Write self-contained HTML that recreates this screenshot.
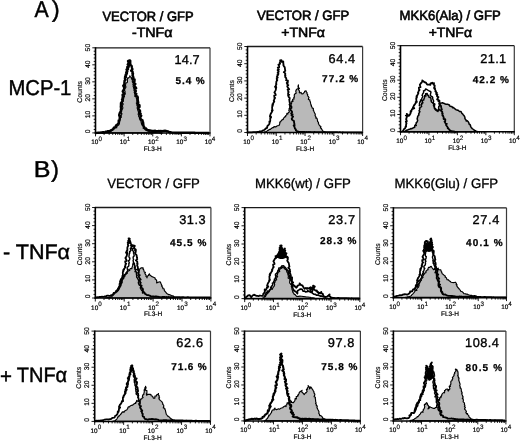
<!DOCTYPE html>
<html><head><meta charset="utf-8"><style>
html,body{margin:0;padding:0;background:#fff;}
svg{display:block;will-change:transform;}
text{font-family:"Liberation Sans", sans-serif;text-rendering:geometricPrecision;}
</style></head><body>
<svg width="520" height="441" viewBox="0 0 520 441" font-family='"Liberation Sans", sans-serif'>
<rect width="520" height="441" fill="#fff"/>
<polygon points="102.0,132.9 102.0,133.4 103.0,133.2 104.0,133.1 105.0,132.9 106.0,132.7 107.0,132.5 108.0,132.4 109.0,132.0 109.8,131.4 110.9,131.2 112.1,130.4 113.1,129.7 113.8,129.0 114.1,129.0 115.2,127.7 116.8,127.7 116.5,127.0 117.5,125.8 117.6,125.4 119.0,124.7 119.6,122.8 119.2,121.6 119.2,120.5 119.8,120.3 119.7,119.4 120.5,117.9 121.3,117.2 120.8,116.2 121.5,114.7 122.0,113.7 121.8,113.8 121.0,112.8 121.6,111.5 121.3,109.8 121.7,110.1 121.9,108.9 123.0,108.1 122.3,106.3 122.7,105.9 122.3,104.9 123.4,104.1 122.4,103.2 122.6,101.4 123.5,101.2 123.2,100.3 123.7,98.4 123.6,97.3 123.4,96.3 124.5,96.6 124.0,94.3 125.4,94.0 124.7,92.6 125.1,92.5 125.0,90.9 124.5,90.6 124.6,89.0 125.8,87.5 125.8,87.6 125.8,86.4 125.3,84.9 125.6,84.5 126.0,82.9 127.3,82.5 127.5,80.9 127.2,80.4 127.5,79.0 127.8,77.9 128.1,78.2 129.7,76.9 129.8,75.8 130.0,76.4 131.7,78.0 131.4,78.8 132.3,79.5 132.4,80.5 132.3,81.3 132.4,82.0 133.4,83.3 132.9,84.6 133.7,85.1 133.0,86.1 133.5,87.2 133.9,88.4 134.2,89.4 133.9,90.2 134.6,91.5 134.2,92.5 135.0,93.3 135.3,94.6 135.0,95.0 134.8,96.4 136.2,96.8 136.2,98.1 136.6,98.2 136.8,99.8 136.8,100.5 136.9,102.0 137.1,102.9 136.3,103.1 137.1,104.8 136.9,105.8 137.6,105.9 137.5,107.1 137.1,108.0 137.6,109.0 137.7,109.8 138.2,111.2 138.6,112.5 138.3,113.9 138.1,114.2 138.7,115.2 138.7,116.7 139.2,116.6 139.8,117.6 140.0,118.9 140.4,120.8 141.0,121.0 141.4,122.3 141.1,122.5 141.7,124.1 142.7,125.7 142.7,125.8 143.6,126.3 143.1,128.1 144.4,128.4 145.3,129.8 145.9,130.3 146.9,130.6 148.2,131.0 149.2,131.6 150.0,131.7 151.1,131.9 152.0,132.0 153.1,132.2 154.0,132.3 155.0,132.5 156.0,132.6 157.0,132.7 158.0,132.9 159.0,133.0 160.0,133.1 161.0,133.3 162.0,133.4 162.0,132.9" fill="#b9b9b9" stroke="#000" stroke-width="1.15" stroke-linejoin="round"/>
<polyline points="96.0,133.0 97.0,132.9 98.0,132.8 99.0,132.7 100.0,132.6 101.1,132.5 102.1,132.4 103.0,132.2 104.0,132.3 104.9,132.1 105.9,131.7 106.8,131.7 107.5,131.3 108.7,131.3 109.6,131.0 110.7,130.6 111.4,130.1 112.4,129.7 113.9,128.1 113.8,127.6 115.7,127.1 115.8,126.0 116.2,125.4 116.5,125.0 117.6,124.7 118.0,123.8 118.7,123.0 118.7,120.5 119.3,121.0 119.7,119.3 119.7,117.7 120.1,117.4 119.2,115.5 120.4,116.2 119.2,114.9 119.9,112.7 119.9,112.9 121.1,110.6 120.8,109.6 121.1,109.2 121.6,109.4 121.0,108.4 120.8,105.8 121.5,104.7 120.9,104.4 121.7,103.0 120.9,103.3 121.5,102.5 122.7,100.4 122.0,99.7 122.5,98.9 122.5,98.0 123.4,96.8 122.7,96.3 122.6,94.6 124.2,94.0 123.5,92.2 123.3,92.3 122.7,91.4 123.9,89.5 124.0,89.3 124.2,88.2 124.4,88.0 123.2,85.8 124.5,86.5 123.9,84.7 124.6,83.6 124.3,82.7 124.5,82.3 124.5,81.0 125.5,79.4 125.2,79.8 124.9,78.0 126.0,77.1 125.1,76.5 126.2,75.0 125.7,74.5 126.8,73.8 127.0,72.4 126.2,72.4 127.4,71.1 126.5,69.6 127.3,68.8 128.1,69.1 127.2,67.2 128.6,67.0 128.9,65.5 127.7,64.5 129.0,63.6 128.3,63.0 128.6,62.0 129.6,60.7 128.0,61.2 129.7,60.4 129.1,61.2 130.3,60.8 130.2,62.8 130.4,63.1 130.0,63.7 130.1,64.1 131.0,65.4 131.6,65.9 132.0,67.9 132.3,69.2 132.4,69.5 131.1,70.7 131.6,70.8 132.7,72.1 132.4,73.8 133.0,73.6 132.5,75.5 133.1,76.3 133.0,76.1 133.5,78.1 133.0,79.0 134.6,80.0 134.6,79.4 134.4,81.9 133.5,81.7 134.1,83.0 134.6,83.9 135.4,83.9 134.3,85.0 134.5,85.8 136.2,88.2 134.7,88.5 135.2,89.1 135.3,90.6 135.9,91.0 135.2,91.8 135.2,93.2 136.4,93.8 135.6,94.4 136.5,96.1 137.5,96.6 137.9,98.0 137.6,98.5 137.8,100.0 137.8,101.0 138.0,101.2 138.3,103.0 137.6,103.5 138.4,105.3 139.5,105.3 139.5,107.1 138.5,107.5 138.4,109.1 139.6,110.2 140.0,110.7 140.1,111.5 139.1,112.5 139.2,112.7 140.7,113.5 139.7,114.6 141.3,115.7 140.0,117.8 140.3,118.8 141.6,119.8 142.5,120.3 142.5,120.3 142.8,122.1 143.1,122.3 143.4,124.8 142.7,124.7 144.1,126.6 144.0,126.4 144.5,128.2 146.1,128.5 146.5,129.2 147.4,129.9 148.3,130.3 150.0,130.5 151.0,130.6 152.0,131.0 153.0,130.9 153.9,131.0 155.2,130.8 155.8,131.2 157.2,131.1 158.0,131.2 158.8,131.0 159.8,131.2 160.9,131.0 162.1,131.3 162.9,131.0 163.9,131.0 165.0,130.8 165.9,130.9 167.0,131.3 167.9,131.4 168.9,131.9 169.9,132.2 171.0,132.3 172.0,132.6 172.9,132.6 173.8,132.6 174.7,132.6 175.6,132.7 176.5,132.6 177.4,132.7 178.3,132.7 179.2,132.7 180.1,132.7 181.0,132.7 181.9,132.7 182.8,132.7 183.7,132.7 184.6,132.7 185.5,132.8 186.4,132.7 187.3,132.8 188.2,132.8 189.1,132.8 190.0,132.8 191.0,132.8 191.9,132.8 192.8,132.8 193.7,132.8 194.6,132.8 195.5,132.9 196.4,132.9 197.3,132.9 198.2,132.9 199.1,132.9 200.0,132.9 200.9,132.9 201.8,132.9 202.7,132.9 203.6,132.9 204.5,133.0 205.4,133.0 206.3,133.0 207.2,133.0 208.1,133.0 209.0,133.0" fill="none" stroke="#000" stroke-width="2.4" stroke-linejoin="round"/>
<line x1="95.5" y1="47.8" x2="210.0" y2="47.8" stroke="#1a1a1a" stroke-width="1.3"/>
<line x1="210.0" y1="47.8" x2="210.0" y2="132.9" stroke="#3a3a3a" stroke-width="1.2"/>
<line x1="95.5" y1="47.199999999999996" x2="95.5" y2="133.8" stroke="#000" stroke-width="1.6"/>
<line x1="94.7" y1="132.9" x2="210.5" y2="132.9" stroke="#000" stroke-width="1.55"/>
<path d="M92.30,132.90H95.5M93.70,129.50H95.5M93.70,126.09H95.5M93.70,122.69H95.5M93.70,119.28H95.5M92.30,115.88H95.5M93.70,112.48H95.5M93.70,109.07H95.5M93.70,105.67H95.5M93.70,102.26H95.5M92.30,98.86H95.5M93.70,95.46H95.5M93.70,92.05H95.5M93.70,88.65H95.5M93.70,85.24H95.5M92.30,81.84H95.5M93.70,78.44H95.5M93.70,75.03H95.5M93.70,71.63H95.5M93.70,68.22H95.5M92.30,64.82H95.5M93.70,61.42H95.5M93.70,58.01H95.5M93.70,54.61H95.5M93.70,51.20H95.5M92.30,47.80H95.5M95.50,132.9V136.40M104.12,132.9V134.90M109.16,132.9V134.90M112.73,132.9V134.90M115.51,132.9V134.90M117.77,132.9V134.90M119.69,132.9V134.90M121.35,132.9V134.90M122.82,132.9V134.90M124.12,132.9V136.40M132.74,132.9V134.90M137.78,132.9V134.90M141.36,132.9V134.90M144.13,132.9V134.90M146.40,132.9V134.90M148.32,132.9V134.90M149.98,132.9V134.90M151.44,132.9V134.90M152.75,132.9V136.40M161.37,132.9V134.90M166.41,132.9V134.90M169.98,132.9V134.90M172.76,132.9V134.90M175.02,132.9V134.90M176.94,132.9V134.90M178.60,132.9V134.90M180.07,132.9V134.90M181.38,132.9V136.40M189.99,132.9V134.90M195.03,132.9V134.90M198.61,132.9V134.90M201.38,132.9V134.90M203.65,132.9V134.90M205.57,132.9V134.90M207.23,132.9V134.90M208.69,132.9V134.90M210.00,132.9V136.40" stroke="#000" stroke-width="0.9" fill="none"/>
<text transform="translate(89.90,131.30) rotate(-90)" text-anchor="middle" font-size="6.8" fill="#000" stroke="#000" stroke-width="0.2">0</text>
<text transform="translate(89.90,114.56) rotate(-90)" text-anchor="middle" font-size="6.8" fill="#000" stroke="#000" stroke-width="0.2">10</text>
<text transform="translate(89.90,97.82) rotate(-90)" text-anchor="middle" font-size="6.8" fill="#000" stroke="#000" stroke-width="0.2">20</text>
<text transform="translate(89.90,81.08) rotate(-90)" text-anchor="middle" font-size="6.8" fill="#000" stroke="#000" stroke-width="0.2">30</text>
<text transform="translate(89.90,64.34) rotate(-90)" text-anchor="middle" font-size="6.8" fill="#000" stroke="#000" stroke-width="0.2">40</text>
<text transform="translate(89.90,47.60) rotate(-90)" text-anchor="middle" font-size="6.8" fill="#000" stroke="#000" stroke-width="0.2">50</text>
<text transform="translate(81.90,91.85) rotate(-90)" text-anchor="middle" font-size="6.9" fill="#000" stroke="#000" stroke-width="0.15">Counts</text>
<text x="91.30" y="144.40" font-size="6.4" fill="#000" stroke="#000" stroke-width="0.2">10</text>
<text x="98.50" y="140.80" font-size="6.3" fill="#000" stroke="#000" stroke-width="0.15">0</text>
<text x="119.64" y="144.40" font-size="6.4" fill="#000" stroke="#000" stroke-width="0.2">10</text>
<text x="126.84" y="140.80" font-size="6.3" fill="#000" stroke="#000" stroke-width="0.15">1</text>
<text x="147.98" y="144.40" font-size="6.4" fill="#000" stroke="#000" stroke-width="0.2">10</text>
<text x="155.18" y="140.80" font-size="6.3" fill="#000" stroke="#000" stroke-width="0.15">2</text>
<text x="176.32" y="144.40" font-size="6.4" fill="#000" stroke="#000" stroke-width="0.2">10</text>
<text x="183.52" y="140.80" font-size="6.3" fill="#000" stroke="#000" stroke-width="0.15">3</text>
<text x="204.66" y="144.40" font-size="6.4" fill="#000" stroke="#000" stroke-width="0.2">10</text>
<text x="211.86" y="140.80" font-size="6.3" fill="#000" stroke="#000" stroke-width="0.15">4</text>
<text x="152.75" y="151.10" text-anchor="middle" font-size="6.5" fill="#000" stroke="#000" stroke-width="0.2">FL3-H</text>
<polygon points="262.0,132.5 262.0,132.4 263.1,132.2 264.1,132.0 265.1,131.7 266.3,131.5 267.2,130.9 267.8,130.4 268.7,130.1 269.2,129.4 270.2,129.5 271.4,128.4 272.3,127.8 273.0,127.4 273.1,127.8 274.1,126.6 276.0,127.0 275.9,126.7 277.1,125.9 277.4,125.8 279.0,125.5 279.8,123.8 279.7,122.8 279.9,121.9 280.7,121.9 280.9,121.2 282.0,119.9 283.3,119.4 283.3,118.6 284.5,117.2 285.5,116.3 285.8,116.7 285.5,115.9 286.7,114.9 286.9,113.4 287.9,113.9 288.1,112.7 289.4,112.0 288.8,110.2 289.3,109.8 289.0,108.8 290.2,108.0 289.5,107.3 290.0,105.6 291.1,105.6 291.0,104.8 291.7,103.1 291.7,102.0 291.8,101.1 293.0,101.4 292.6,99.2 294.1,99.0 293.6,97.7 294.2,97.6 294.4,96.2 294.2,96.0 294.4,94.5 295.8,93.1 296.0,93.4 296.1,92.3 295.7,91.0 296.0,90.7 296.5,89.2 297.9,88.8 298.3,87.2 298.0,86.5 298.4,84.9 298.4,85.6 298.5,87.8 299.5,88.2 298.9,88.7 298.5,89.6 299.6,91.3 299.2,92.2 299.9,93.0 301.1,92.4 301.4,93.3 301.9,94.0 303.3,93.6 303.3,93.3 304.5,92.1 304.6,91.4 306.0,90.8 306.5,92.0 307.1,92.9 306.9,93.7 307.8,94.9 307.5,95.9 308.5,96.6 309.0,97.8 308.6,98.1 308.4,99.5 309.8,99.9 309.8,101.1 310.1,101.2 310.5,102.7 310.6,103.4 311.0,104.8 311.5,105.6 311.1,105.8 312.1,107.4 312.3,108.3 313.3,108.4 313.4,109.5 313.2,110.2 313.9,111.1 314.0,111.7 314.7,113.1 315.3,114.2 315.1,115.5 315.1,115.7 315.8,116.6 315.9,118.1 316.5,117.9 317.2,118.8 317.4,120.1 317.7,121.8 318.3,122.0 318.6,123.2 318.3,123.4 319.1,124.8 320.1,126.2 320.1,126.1 320.9,126.5 320.4,128.0 321.4,128.4 322.1,129.9 322.6,130.5 323.2,131.3 324.3,131.7 325.1,132.1 326.0,132.4 326.0,132.5" fill="#b9b9b9" stroke="#000" stroke-width="1.15" stroke-linejoin="round"/>
<polyline points="247.0,132.4 248.0,132.4 249.0,132.3 250.0,132.3 251.0,132.3 252.0,132.3 253.0,132.2 254.0,132.2 255.0,132.2 256.2,132.2 257.4,132.0 258.5,132.0 259.4,131.5 260.6,131.3 261.5,131.2 262.5,130.8 263.2,130.3 264.2,130.0 265.6,128.8 265.8,128.4 267.2,127.8 267.2,126.7 267.4,126.0 267.5,125.6 268.4,125.3 268.9,124.6 269.5,123.7 269.4,121.3 270.0,121.8 270.3,120.1 270.2,118.5 270.6,118.2 269.9,116.3 271.2,117.0 270.0,115.7 270.8,113.6 270.8,113.7 272.1,111.5 271.8,110.5 272.2,110.1 272.7,110.3 272.2,109.3 272.1,106.7 272.8,105.7 272.3,105.4 273.2,104.0 272.4,104.3 273.0,103.5 274.3,101.5 273.7,100.8 274.2,100.0 274.2,99.1 275.1,97.9 274.4,97.3 274.2,95.6 275.8,95.0 275.1,93.2 275.0,93.3 274.4,92.4 275.6,90.4 275.7,90.2 275.9,89.1 276.1,88.8 275.0,86.7 276.3,87.4 275.7,85.5 276.4,84.3 276.1,83.4 276.3,83.0 276.3,81.7 277.3,80.1 277.0,80.5 276.7,78.6 277.7,77.7 276.8,77.1 277.8,75.6 277.3,75.1 278.3,74.4 278.4,73.0 277.6,72.9 278.7,71.6 277.6,70.1 278.3,69.3 278.9,69.6 277.8,67.6 279.1,67.4 279.2,65.9 278.4,64.8 280.1,63.7 279.7,62.9 280.2,61.7 281.4,60.1 280.1,60.4 282.2,61.3 281.9,62.0 283.3,61.5 283.3,63.7 283.6,64.2 283.3,64.9 283.4,65.3 284.2,66.7 284.7,67.2 285.0,69.3 285.2,70.6 285.3,70.9 283.8,72.1 284.3,72.3 285.3,73.6 285.0,75.3 285.5,75.1 285.1,76.9 285.8,77.7 285.9,77.5 286.5,79.5 286.1,80.3 287.8,81.2 287.9,80.6 287.7,83.1 286.7,82.9 287.3,84.2 287.7,85.1 288.4,85.1 287.2,86.2 287.5,87.0 289.2,89.3 287.6,89.6 288.1,90.2 288.2,91.7 288.7,92.0 288.1,92.9 288.1,94.2 289.2,94.8 288.1,95.4 288.8,97.1 289.6,97.7 289.7,99.1 289.2,99.6 289.5,101.1 289.5,102.1 289.8,102.2 290.1,104.0 289.5,104.5 290.3,106.2 291.4,106.3 291.5,108.0 290.6,108.4 290.5,110.0 291.6,111.1 292.0,111.6 292.1,112.4 291.1,113.4 291.1,113.6 292.6,114.3 291.5,115.4 293.1,116.5 291.7,118.7 292.0,119.6 293.2,120.6 294.0,121.1 294.0,121.1 294.1,122.9 294.3,123.1 294.6,125.6 293.6,125.4 294.7,127.3 294.6,127.2 295.0,128.7 295.9,129.5 295.9,130.4 297.5,131.4 298.6,131.7 300.1,132.0 300.9,132.0 301.9,132.0 302.8,132.0 303.6,132.0 304.6,132.0 305.4,132.1 306.4,132.0 307.3,132.1 308.2,132.0 309.1,132.1 310.0,132.0 311.0,132.1 311.8,132.1 312.8,132.1 313.7,132.1 314.6,132.0 315.5,132.1 316.4,132.1 317.3,132.1 318.2,132.2 319.1,132.1 320.1,132.2 321.0,132.1 321.9,132.2 322.8,132.1 323.7,132.2 324.6,132.1 325.5,132.2 326.5,132.2 327.4,132.2 328.2,132.2 329.1,132.2 330.1,132.2 331.0,132.2 331.9,132.2 332.8,132.2 333.7,132.2 334.6,132.2 335.6,132.2 336.4,132.2 337.4,132.2 338.3,132.3 339.2,132.2 340.1,132.2 341.0,132.3 341.9,132.3 342.9,132.2 343.8,132.3 344.7,132.3 345.6,132.3 346.5,132.3 347.4,132.3 348.3,132.3 349.2,132.3 350.1,132.3 351.1,132.3 352.0,132.3 352.9,132.3 353.8,132.4 354.7,132.3 355.6,132.3 356.5,132.4 357.4,132.4 358.4,132.4 359.3,132.4 360.2,132.4 361.1,132.4 362.0,132.4" fill="none" stroke="#000" stroke-width="1.8" stroke-linejoin="round"/>
<line x1="247.5" y1="46.5" x2="362.6" y2="46.5" stroke="#1a1a1a" stroke-width="1.3"/>
<line x1="362.6" y1="46.5" x2="362.6" y2="132.5" stroke="#3a3a3a" stroke-width="1.2"/>
<line x1="247.5" y1="45.9" x2="247.5" y2="133.4" stroke="#000" stroke-width="1.6"/>
<line x1="246.7" y1="132.5" x2="363.1" y2="132.5" stroke="#000" stroke-width="1.55"/>
<path d="M244.30,132.50H247.5M245.70,129.06H247.5M245.70,125.62H247.5M245.70,122.18H247.5M245.70,118.74H247.5M244.30,115.30H247.5M245.70,111.86H247.5M245.70,108.42H247.5M245.70,104.98H247.5M245.70,101.54H247.5M244.30,98.10H247.5M245.70,94.66H247.5M245.70,91.22H247.5M245.70,87.78H247.5M245.70,84.34H247.5M244.30,80.90H247.5M245.70,77.46H247.5M245.70,74.02H247.5M245.70,70.58H247.5M245.70,67.14H247.5M244.30,63.70H247.5M245.70,60.26H247.5M245.70,56.82H247.5M245.70,53.38H247.5M245.70,49.94H247.5M244.30,46.50H247.5M247.50,132.5V136.00M256.16,132.5V134.50M261.23,132.5V134.50M264.82,132.5V134.50M267.61,132.5V134.50M269.89,132.5V134.50M271.82,132.5V134.50M273.49,132.5V134.50M274.96,132.5V134.50M276.27,132.5V136.00M284.94,132.5V134.50M290.00,132.5V134.50M293.60,132.5V134.50M296.39,132.5V134.50M298.67,132.5V134.50M300.59,132.5V134.50M302.26,132.5V134.50M303.73,132.5V134.50M305.05,132.5V136.00M313.71,132.5V134.50M318.78,132.5V134.50M322.37,132.5V134.50M325.16,132.5V134.50M327.44,132.5V134.50M329.37,132.5V134.50M331.04,132.5V134.50M332.51,132.5V134.50M333.83,132.5V136.00M342.49,132.5V134.50M347.55,132.5V134.50M351.15,132.5V134.50M353.94,132.5V134.50M356.22,132.5V134.50M358.14,132.5V134.50M359.81,132.5V134.50M361.28,132.5V134.50M362.60,132.5V136.00" stroke="#000" stroke-width="0.9" fill="none"/>
<text transform="translate(241.90,130.90) rotate(-90)" text-anchor="middle" font-size="6.8" fill="#000" stroke="#000" stroke-width="0.2">0</text>
<text transform="translate(241.90,113.98) rotate(-90)" text-anchor="middle" font-size="6.8" fill="#000" stroke="#000" stroke-width="0.2">10</text>
<text transform="translate(241.90,97.06) rotate(-90)" text-anchor="middle" font-size="6.8" fill="#000" stroke="#000" stroke-width="0.2">20</text>
<text transform="translate(241.90,80.14) rotate(-90)" text-anchor="middle" font-size="6.8" fill="#000" stroke="#000" stroke-width="0.2">30</text>
<text transform="translate(241.90,63.22) rotate(-90)" text-anchor="middle" font-size="6.8" fill="#000" stroke="#000" stroke-width="0.2">40</text>
<text transform="translate(241.90,46.30) rotate(-90)" text-anchor="middle" font-size="6.8" fill="#000" stroke="#000" stroke-width="0.2">50</text>
<text transform="translate(233.90,91.00) rotate(-90)" text-anchor="middle" font-size="6.9" fill="#000" stroke="#000" stroke-width="0.15">Counts</text>
<text x="243.30" y="144.00" font-size="6.4" fill="#000" stroke="#000" stroke-width="0.2">10</text>
<text x="250.50" y="140.40" font-size="6.3" fill="#000" stroke="#000" stroke-width="0.15">0</text>
<text x="271.79" y="144.00" font-size="6.4" fill="#000" stroke="#000" stroke-width="0.2">10</text>
<text x="278.99" y="140.40" font-size="6.3" fill="#000" stroke="#000" stroke-width="0.15">1</text>
<text x="300.27" y="144.00" font-size="6.4" fill="#000" stroke="#000" stroke-width="0.2">10</text>
<text x="307.47" y="140.40" font-size="6.3" fill="#000" stroke="#000" stroke-width="0.15">2</text>
<text x="328.76" y="144.00" font-size="6.4" fill="#000" stroke="#000" stroke-width="0.2">10</text>
<text x="335.96" y="140.40" font-size="6.3" fill="#000" stroke="#000" stroke-width="0.15">3</text>
<text x="357.25" y="144.00" font-size="6.4" fill="#000" stroke="#000" stroke-width="0.2">10</text>
<text x="364.45" y="140.40" font-size="6.3" fill="#000" stroke="#000" stroke-width="0.15">4</text>
<text x="305.05" y="150.70" text-anchor="middle" font-size="6.5" fill="#000" stroke="#000" stroke-width="0.2">FL3-H</text>
<polygon points="404.0,131.7 404.0,132.0 405.0,131.3 406.0,130.6 406.6,130.2 407.8,130.0 408.7,129.4 409.4,129.2 410.3,129.0 410.8,128.5 411.9,128.7 413.2,127.8 414.1,127.5 414.8,127.1 414.4,127.1 414.9,125.3 416.3,125.4 415.6,124.6 416.3,123.3 416.1,122.8 417.1,122.0 417.7,120.2 417.2,119.1 417.2,118.1 417.6,117.9 417.5,117.1 418.1,115.7 419.0,115.0 418.6,114.1 419.3,112.6 419.9,111.7 419.8,111.9 419.0,110.9 419.7,109.7 419.5,108.1 419.9,108.4 420.2,107.3 421.6,106.6 421.1,104.8 421.8,104.5 421.6,103.5 422.9,102.8 422.2,102.0 422.7,100.2 423.8,100.1 423.8,99.3 424.5,97.6 424.6,96.5 424.7,95.6 425.9,96.0 425.6,93.8 427.2,93.6 427.1,94.0 428.1,95.5 428.7,95.7 428.9,97.1 429.3,97.3 430.8,97.7 431.1,99.7 431.3,100.3 431.0,100.6 431.5,102.0 432.1,102.3 433.5,103.8 433.8,104.2 433.5,105.5 433.9,105.8 434.1,106.5 434.5,108.6 435.7,109.1 435.4,109.6 435.9,110.1 437.9,111.5 437.6,110.5 438.5,109.4 438.7,108.6 438.6,107.6 438.8,106.4 439.8,105.8 439.4,105.2 440.2,103.8 440.1,103.3 441.3,103.1 442.4,102.8 443.5,103.2 444.0,103.3 445.3,104.0 446.0,104.2 448.0,104.3 449.2,105.1 449.5,105.0 449.9,106.2 451.8,106.5 452.7,107.8 453.6,107.5 454.5,108.6 455.1,108.9 456.3,109.9 457.6,110.3 457.6,109.9 459.0,111.0 459.5,111.5 460.9,111.4 461.5,112.5 461.8,113.2 462.8,114.1 463.2,114.7 464.3,116.0 464.9,117.3 464.9,118.6 465.0,118.8 465.9,119.8 466.3,121.1 467.3,120.8 468.2,121.7 468.8,122.8 469.3,124.5 470.1,124.6 470.6,125.8 470.5,126.1 471.2,127.5 472.3,128.6 472.8,129.0 473.8,129.7 474.3,130.3 475.3,130.6 476.1,131.2 477.0,131.5 478.0,132.0 478.0,131.7" fill="#b9b9b9" stroke="#000" stroke-width="1.5" stroke-linejoin="round"/>
<polyline points="418.9,106.3 419.7,105.3 419.8,104.8 419.3,104.1 419.6,103.1 419.9,101.6 420.7,101.9 420.5,100.0 421.6,100.2 421.8,98.4 422.7,96.9 422.8,96.4 421.9,95.2 422.5,95.4 422.5,94.1 423.5,92.8 423.7,91.4 423.4,90.9 425.0,90.5 425.0,90.1 425.7,88.9 427.4,89.9 427.6,90.0 429.5,91.2 430.2,91.2 431.0,92.0 430.5,94.0 430.4,94.5 430.6,95.8 432.1,96.6 432.7,97.2 432.7,98.6 432.9,99.4 433.7,101.1 433.5,101.7 433.2,102.7 434.4,104.2 434.9,104.0 434.5,105.6 434.1,106.3 434.6,106.7 434.7,108.7 435.5,108.7 436.7,110.4 436.9,110.5 438.8,110.5 439.8,109.1" fill="none" stroke="#000" stroke-width="1.4" stroke-linejoin="round"/>
<polyline points="401.0,132.0 402.0,131.6 403.0,131.1 403.3,130.5 403.8,129.3 404.9,128.6 405.3,127.7 405.6,126.4 406.1,126.6 406.0,125.5 406.3,123.4 406.5,123.4 405.8,121.5 406.8,121.4 406.6,121.2 406.7,120.4 406.1,119.3 406.3,118.6 407.1,116.2 405.8,115.5 407.4,115.0 406.8,113.8 407.7,114.7 408.5,115.9 409.3,115.4 409.9,114.5 410.5,113.6 410.6,111.2 411.3,111.6 411.7,109.9 412.2,108.8 413.1,108.9 412.9,107.5 414.3,108.3 413.3,107.0 414.2,104.9 414.4,105.1 415.8,102.9 415.7,102.0 416.2,101.6 416.9,101.9 416.4,101.0 416.2,98.4 416.9,97.4 416.4,97.1 417.3,95.8 416.5,96.1 417.2,95.4 418.4,93.4 417.9,92.7 418.5,91.9 418.6,91.0 419.6,89.9 419.0,89.4 418.9,87.7 420.5,87.2 420.0,85.3 420.1,85.5 419.8,84.7 421.2,82.9 421.6,82.7 422.1,81.7 422.5,81.5 422.3,80.5 424.6,82.3 424.6,82.1 425.9,82.5 426.3,83.2 427.0,84.3 427.7,84.6 429.3,84.6 430.3,84.9 430.6,83.4 432.2,82.8 432.1,83.4 434.1,83.1 433.5,84.4 434.6,85.5 434.8,85.9 434.1,87.7 435.2,88.2 434.2,88.5 435.1,89.5 436.0,91.5 435.3,91.3 436.8,92.8 437.0,93.1 436.0,93.9 437.5,94.7 436.9,95.8 437.3,96.7 438.5,97.1 437.1,99.4 438.9,100.3 438.3,101.1 439.5,100.7 439.4,102.7 439.5,103.0 439.1,103.6 439.3,104.0 440.2,105.2 440.9,105.7 441.3,107.7 441.6,109.0 441.9,109.3 440.5,110.5 441.1,110.6 442.3,111.9 442.1,113.6 442.7,113.4 442.4,115.3 443.1,116.1 443.2,115.9 443.8,118.0 443.5,118.9 445.1,119.8 445.3,119.3 445.2,121.8 444.5,121.6 445.3,122.9 445.9,123.8 446.9,123.8 446.0,124.9 446.6,125.8 448.1,127.9 447.7,128.2 448.6,128.8 449.3,129.8 450.0,130.4 451.1,130.8 452.3,131.1 453.3,131.3 454.2,131.5 455.1,131.8 456.0,132.0" fill="none" stroke="#000" stroke-width="1.8" stroke-linejoin="round"/>
<line x1="400.5" y1="45.7" x2="514.3" y2="45.7" stroke="#1a1a1a" stroke-width="1.3"/>
<line x1="514.3" y1="45.7" x2="514.3" y2="131.7" stroke="#3a3a3a" stroke-width="1.2"/>
<line x1="400.5" y1="45.1" x2="400.5" y2="132.6" stroke="#000" stroke-width="1.6"/>
<line x1="399.7" y1="131.7" x2="514.8" y2="131.7" stroke="#000" stroke-width="1.55"/>
<path d="M397.30,131.70H400.5M398.70,128.26H400.5M398.70,124.82H400.5M398.70,121.38H400.5M398.70,117.94H400.5M397.30,114.50H400.5M398.70,111.06H400.5M398.70,107.62H400.5M398.70,104.18H400.5M398.70,100.74H400.5M397.30,97.30H400.5M398.70,93.86H400.5M398.70,90.42H400.5M398.70,86.98H400.5M398.70,83.54H400.5M397.30,80.10H400.5M398.70,76.66H400.5M398.70,73.22H400.5M398.70,69.78H400.5M398.70,66.34H400.5M397.30,62.90H400.5M398.70,59.46H400.5M398.70,56.02H400.5M398.70,52.58H400.5M398.70,49.14H400.5M397.30,45.70H400.5M400.50,131.7V135.20M409.06,131.7V133.70M414.07,131.7V133.70M417.63,131.7V133.70M420.39,131.7V133.70M422.64,131.7V133.70M424.54,131.7V133.70M426.19,131.7V133.70M427.65,131.7V133.70M428.95,131.7V135.20M437.51,131.7V133.70M442.52,131.7V133.70M446.08,131.7V133.70M448.84,131.7V133.70M451.09,131.7V133.70M452.99,131.7V133.70M454.64,131.7V133.70M456.10,131.7V133.70M457.40,131.7V135.20M465.96,131.7V133.70M470.97,131.7V133.70M474.53,131.7V133.70M477.29,131.7V133.70M479.54,131.7V133.70M481.44,131.7V133.70M483.09,131.7V133.70M484.55,131.7V133.70M485.85,131.7V135.20M494.41,131.7V133.70M499.42,131.7V133.70M502.98,131.7V133.70M505.74,131.7V133.70M507.99,131.7V133.70M509.89,131.7V133.70M511.54,131.7V133.70M513.00,131.7V133.70M514.30,131.7V135.20" stroke="#000" stroke-width="0.9" fill="none"/>
<text transform="translate(394.90,130.10) rotate(-90)" text-anchor="middle" font-size="6.8" fill="#000" stroke="#000" stroke-width="0.2">0</text>
<text transform="translate(394.90,113.18) rotate(-90)" text-anchor="middle" font-size="6.8" fill="#000" stroke="#000" stroke-width="0.2">10</text>
<text transform="translate(394.90,96.26) rotate(-90)" text-anchor="middle" font-size="6.8" fill="#000" stroke="#000" stroke-width="0.2">20</text>
<text transform="translate(394.90,79.34) rotate(-90)" text-anchor="middle" font-size="6.8" fill="#000" stroke="#000" stroke-width="0.2">30</text>
<text transform="translate(394.90,62.42) rotate(-90)" text-anchor="middle" font-size="6.8" fill="#000" stroke="#000" stroke-width="0.2">40</text>
<text transform="translate(394.90,45.50) rotate(-90)" text-anchor="middle" font-size="6.8" fill="#000" stroke="#000" stroke-width="0.2">50</text>
<text transform="translate(386.90,90.20) rotate(-90)" text-anchor="middle" font-size="6.9" fill="#000" stroke="#000" stroke-width="0.15">Counts</text>
<text x="396.30" y="143.20" font-size="6.4" fill="#000" stroke="#000" stroke-width="0.2">10</text>
<text x="403.50" y="139.60" font-size="6.3" fill="#000" stroke="#000" stroke-width="0.15">0</text>
<text x="424.47" y="143.20" font-size="6.4" fill="#000" stroke="#000" stroke-width="0.2">10</text>
<text x="431.67" y="139.60" font-size="6.3" fill="#000" stroke="#000" stroke-width="0.15">1</text>
<text x="452.63" y="143.20" font-size="6.4" fill="#000" stroke="#000" stroke-width="0.2">10</text>
<text x="459.83" y="139.60" font-size="6.3" fill="#000" stroke="#000" stroke-width="0.15">2</text>
<text x="480.80" y="143.20" font-size="6.4" fill="#000" stroke="#000" stroke-width="0.2">10</text>
<text x="488.00" y="139.60" font-size="6.3" fill="#000" stroke="#000" stroke-width="0.15">3</text>
<text x="508.96" y="143.20" font-size="6.4" fill="#000" stroke="#000" stroke-width="0.2">10</text>
<text x="516.16" y="139.60" font-size="6.3" fill="#000" stroke="#000" stroke-width="0.15">4</text>
<text x="457.40" y="149.90" text-anchor="middle" font-size="6.5" fill="#000" stroke="#000" stroke-width="0.2">FL3-H</text>
<polygon points="105.0,298.0 105.0,298.0 106.0,297.8 107.0,297.7 107.9,297.4 109.0,297.3 110.0,297.0 110.9,296.8 111.9,296.7 112.3,295.8 113.1,295.4 114.2,294.1 114.9,293.2 115.5,292.3 115.3,292.5 116.0,290.7 117.5,290.8 117.0,290.0 117.7,288.8 117.7,288.3 118.8,287.4 119.5,285.6 119.2,284.6 119.3,283.5 119.9,283.4 119.9,282.6 120.9,281.3 122.0,280.7 121.8,279.8 122.8,278.4 123.7,277.5 123.9,277.8 123.3,276.9 124.4,275.9 124.4,274.4 125.2,274.9 125.7,273.9 127.3,273.4 127.0,271.8 127.8,271.7 128.0,271.0 129.8,270.5 129.5,270.0 130.3,268.5 131.9,268.7 131.9,267.7 132.6,265.9 132.7,264.8 132.8,263.8 134.1,264.0 133.6,263.6 135.0,265.2 134.5,265.7 135.0,267.4 135.1,267.8 134.8,269.4 135.0,269.7 137.2,269.2 138.2,270.3 139.1,270.1 139.1,269.0 140.0,269.0 141.0,267.8 142.8,267.8 143.2,268.0 143.0,269.2 143.5,269.4 143.8,270.0 144.2,272.0 145.4,272.4 145.1,272.9 144.9,273.7 146.2,275.4 145.9,276.2 146.8,277.0 147.0,278.0 147.1,277.1 147.5,276.0 148.6,275.5 148.4,275.1 149.4,273.8 149.3,274.5 150.5,275.5 151.5,276.4 152.9,277.0 153.5,277.3 155.1,278.1 155.1,279.0 156.2,279.8 156.8,281.1 156.7,281.5 156.6,282.9 158.9,282.0 159.8,281.9 160.3,281.9 160.9,283.3 161.2,283.9 161.6,285.2 162.1,285.9 161.7,286.1 162.8,287.7 162.9,288.7 164.0,288.7 164.3,289.9 164.3,290.6 165.2,291.5 165.7,292.1 166.7,293.4 167.8,294.0 168.4,294.6 169.2,294.6 170.5,295.0 171.6,295.7 172.9,295.7 173.7,296.5 174.3,297.3 175.0,298.0 175.0,298.0" fill="#b9b9b9" stroke="#000" stroke-width="1.15" stroke-linejoin="round"/>
<polyline points="116.7,292.0 117.7,290.9 118.1,290.5 117.8,289.8 118.3,288.8 118.8,287.3 119.7,287.6 119.6,285.7 120.8,285.9 121.1,284.1 122.0,282.6 122.2,282.0 121.4,280.8 122.1,281.0 122.3,279.8 123.5,278.6 123.8,277.3 123.4,276.6 124.9,276.1 124.7,275.5 125.4,274.2 126.4,273.9 125.9,272.8 126.8,272.4 127.6,270.6 128.2,269.4 127.4,269.4 127.2,268.1 127.2,267.4 128.6,266.3 128.9,265.0 128.8,264.5 128.8,263.3 129.4,263.1 128.9,261.7 128.4,260.7 129.5,260.2 129.9,258.1 129.3,257.7 128.9,256.4 129.2,254.8 129.1,254.9 129.4,253.1 129.9,253.1 129.5,251.4 130.4,251.2 131.0,250.3 130.3,248.7 130.6,248.5 131.7,246.4 131.0,247.3 131.7,248.5 132.8,248.9 132.4,249.9 133.1,251.0 134.0,252.2 133.4,253.0 133.7,253.0 134.1,255.1 134.2,256.0 133.5,256.3 133.1,257.6 133.1,257.6 133.3,258.7 133.6,259.4 133.1,260.5 133.4,261.8 133.4,263.5 134.5,263.2 134.1,264.4 134.4,265.0 135.4,267.2 134.9,267.3 134.5,267.6 135.1,268.7 136.0,269.5 135.0,271.7 136.0,271.4 136.3,272.2 136.5,274.8 137.3,275.3 136.6,275.8 136.7,277.3 137.6,278.2 137.5,278.2 138.5,280.3 138.8,280.9 139.0,281.6 138.3,282.2 138.8,282.2 138.5,283.5 139.2,285.0 140.6,285.5 140.8,287.2 141.2,287.1 140.3,287.7 140.5,288.5 141.7,290.5 142.5,290.8 142.7,292.2 142.4,292.8 143.5,293.5" fill="none" stroke="#000" stroke-width="1.4" stroke-linejoin="round"/>
<polyline points="95.5,297.5 96.4,297.4 97.3,297.2 98.1,297.3 99.0,297.0 100.1,297.0 101.1,296.9 102.1,296.7 103.1,296.8 104.0,296.7 105.1,296.3 106.1,296.3 106.9,295.7 108.2,295.7 109.2,295.8 110.3,295.6 111.1,295.2 112.2,295.0 113.7,293.4 113.7,292.8 116.0,292.4 116.1,291.4 116.5,290.8 116.9,290.4 118.0,290.2 118.5,289.4 119.2,288.6 119.2,286.3 119.9,286.8 120.3,285.2 120.2,283.6 120.7,283.4 120.0,281.5 121.2,282.3 120.2,281.0 121.0,279.0 121.1,279.2 122.5,277.0 122.3,276.1 122.7,275.6 123.3,275.8 122.9,274.8 122.8,272.1 123.5,271.1 123.1,270.7 124.1,269.4 123.3,269.8 124.1,269.0 125.4,267.1 124.9,266.4 125.4,265.6 125.4,264.7 126.2,263.6 125.4,263.0 125.2,261.3 126.7,260.8 126.0,258.9 125.9,259.0 125.4,258.1 126.6,256.2 126.7,255.9 127.0,254.8 127.1,254.5 126.0,252.3 127.4,253.0 126.7,251.1 127.5,249.9 127.2,249.0 127.4,248.5 127.4,247.2 128.4,245.6 128.1,245.9 127.8,244.1 128.7,243.2 127.7,242.6 128.8,241.0 128.2,240.5 129.2,239.8 129.3,238.3 128.5,238.3 129.8,238.9 128.9,239.3 129.8,240.4 130.6,242.6 129.8,242.6 131.4,244.3 131.8,244.7 130.9,245.6 132.5,246.6 132.4,246.1 133.3,245.3 134.8,245.9 133.8,248.3 135.5,249.3 134.9,250.2 135.9,249.8 135.7,251.9 135.7,252.2 135.1,252.8 135.2,253.3 136.0,254.6 136.6,255.2 136.9,257.3 137.2,258.7 137.3,259.1 135.9,260.4 136.4,260.6 137.4,262.0 137.1,263.8 137.6,263.7 137.1,265.7 137.7,266.5 137.6,266.5 138.1,268.6 137.6,269.5 139.1,270.6 139.0,270.1 138.8,272.7 138.0,272.6 138.5,274.0 139.0,275.0 139.8,275.1 138.7,276.3 139.0,277.2 140.7,279.6 139.3,280.0 139.9,280.7 140.2,282.3 140.8,282.7 140.3,283.7 140.4,285.1 141.7,285.8 140.8,286.3 141.7,288.0 142.7,288.5 143.0,289.8 142.7,290.3 143.3,291.6 143.8,292.3 144.4,292.3 145.0,293.8 145.5,294.0 146.9,295.0 148.4,295.1 149.2,295.6 149.7,295.6 150.6,296.1 151.8,296.3 152.8,296.4 153.7,296.5 154.3,296.6 155.2,296.5 156.4,296.5 157.1,296.6 158.3,296.7 158.9,297.0 159.9,297.1 161.0,297.1 162.0,297.0 162.8,296.9 163.7,297.0 164.6,296.9 165.5,297.2 166.3,297.0 167.3,297.2 168.1,297.0 169.0,297.1 170.1,297.1 170.9,297.1 171.8,297.1 172.6,297.1 173.8,297.1 174.6,297.1 175.5,297.2 176.4,297.2 177.3,297.2 178.3,297.1 179.0,297.2 180.1,297.2 180.9,297.3 181.8,297.2 182.7,297.2 183.6,297.2 184.6,297.3 185.5,297.3 186.4,297.3 187.3,297.2 188.2,297.2 189.1,297.3 190.0,297.3 190.9,297.4 191.8,297.4 192.8,297.3 193.7,297.4 194.7,297.4 195.5,297.4 196.5,297.3 197.4,297.5 198.2,297.3 199.1,297.4 200.1,297.5 201.0,297.4 201.8,297.4 202.7,297.5 203.8,297.5 204.6,297.5 205.5,297.4 206.5,297.4 207.3,297.5 208.2,297.5 209.2,297.5 210.0,297.5 211.0,297.5" fill="none" stroke="#000" stroke-width="1.8" stroke-linejoin="round"/>
<line x1="95.3" y1="207.5" x2="210.9" y2="207.5" stroke="#1a1a1a" stroke-width="1.3"/>
<line x1="210.9" y1="207.5" x2="210.9" y2="298.0" stroke="#3a3a3a" stroke-width="1.2"/>
<line x1="95.3" y1="206.9" x2="95.3" y2="298.9" stroke="#000" stroke-width="1.6"/>
<line x1="94.5" y1="298.0" x2="211.4" y2="298.0" stroke="#000" stroke-width="1.55"/>
<path d="M92.10,298.00H95.3M93.50,294.38H95.3M93.50,290.76H95.3M93.50,287.14H95.3M93.50,283.52H95.3M92.10,279.90H95.3M93.50,276.28H95.3M93.50,272.66H95.3M93.50,269.04H95.3M93.50,265.42H95.3M92.10,261.80H95.3M93.50,258.18H95.3M93.50,254.56H95.3M93.50,250.94H95.3M93.50,247.32H95.3M92.10,243.70H95.3M93.50,240.08H95.3M93.50,236.46H95.3M93.50,232.84H95.3M93.50,229.22H95.3M92.10,225.60H95.3M93.50,221.98H95.3M93.50,218.36H95.3M93.50,214.74H95.3M93.50,211.12H95.3M92.10,207.50H95.3M95.30,298.0V301.50M104.00,298.0V300.00M109.09,298.0V300.00M112.70,298.0V300.00M115.50,298.0V300.00M117.79,298.0V300.00M119.72,298.0V300.00M121.40,298.0V300.00M122.88,298.0V300.00M124.20,298.0V301.50M132.90,298.0V300.00M137.99,298.0V300.00M141.60,298.0V300.00M144.40,298.0V300.00M146.69,298.0V300.00M148.62,298.0V300.00M150.30,298.0V300.00M151.78,298.0V300.00M153.10,298.0V301.50M161.80,298.0V300.00M166.89,298.0V300.00M170.50,298.0V300.00M173.30,298.0V300.00M175.59,298.0V300.00M177.52,298.0V300.00M179.20,298.0V300.00M180.68,298.0V300.00M182.00,298.0V301.50M190.70,298.0V300.00M195.79,298.0V300.00M199.40,298.0V300.00M202.20,298.0V300.00M204.49,298.0V300.00M206.42,298.0V300.00M208.10,298.0V300.00M209.58,298.0V300.00M210.90,298.0V301.50" stroke="#000" stroke-width="0.9" fill="none"/>
<text transform="translate(89.70,296.40) rotate(-90)" text-anchor="middle" font-size="6.8" fill="#000" stroke="#000" stroke-width="0.2">0</text>
<text transform="translate(89.70,278.58) rotate(-90)" text-anchor="middle" font-size="6.8" fill="#000" stroke="#000" stroke-width="0.2">10</text>
<text transform="translate(89.70,260.76) rotate(-90)" text-anchor="middle" font-size="6.8" fill="#000" stroke="#000" stroke-width="0.2">20</text>
<text transform="translate(89.70,242.94) rotate(-90)" text-anchor="middle" font-size="6.8" fill="#000" stroke="#000" stroke-width="0.2">30</text>
<text transform="translate(89.70,225.12) rotate(-90)" text-anchor="middle" font-size="6.8" fill="#000" stroke="#000" stroke-width="0.2">40</text>
<text transform="translate(89.70,207.30) rotate(-90)" text-anchor="middle" font-size="6.8" fill="#000" stroke="#000" stroke-width="0.2">50</text>
<text transform="translate(81.70,254.25) rotate(-90)" text-anchor="middle" font-size="6.9" fill="#000" stroke="#000" stroke-width="0.15">Counts</text>
<text x="91.10" y="309.50" font-size="6.4" fill="#000" stroke="#000" stroke-width="0.2">10</text>
<text x="98.30" y="305.90" font-size="6.3" fill="#000" stroke="#000" stroke-width="0.15">0</text>
<text x="119.71" y="309.50" font-size="6.4" fill="#000" stroke="#000" stroke-width="0.2">10</text>
<text x="126.91" y="305.90" font-size="6.3" fill="#000" stroke="#000" stroke-width="0.15">1</text>
<text x="148.32" y="309.50" font-size="6.4" fill="#000" stroke="#000" stroke-width="0.2">10</text>
<text x="155.52" y="305.90" font-size="6.3" fill="#000" stroke="#000" stroke-width="0.15">2</text>
<text x="176.93" y="309.50" font-size="6.4" fill="#000" stroke="#000" stroke-width="0.2">10</text>
<text x="184.13" y="305.90" font-size="6.3" fill="#000" stroke="#000" stroke-width="0.15">3</text>
<text x="205.54" y="309.50" font-size="6.4" fill="#000" stroke="#000" stroke-width="0.2">10</text>
<text x="212.74" y="305.90" font-size="6.3" fill="#000" stroke="#000" stroke-width="0.15">4</text>
<text x="153.10" y="316.20" text-anchor="middle" font-size="6.5" fill="#000" stroke="#000" stroke-width="0.2">FL3-H</text>
<polygon points="262.0,298.6 262.0,298.6 262.8,298.1 263.7,297.7 264.2,297.0 265.4,296.6 266.0,295.5 266.3,294.8 266.9,294.3 266.9,293.2 267.7,293.3 269.0,291.5 269.7,290.8 270.1,290.2 269.8,290.5 270.8,289.0 272.5,289.2 272.2,288.7 273.2,287.6 273.0,287.2 274.1,286.4 274.7,284.6 274.4,283.5 274.4,282.5 275.0,282.4 274.9,281.7 275.8,280.3 276.7,279.7 276.2,278.8 277.0,277.3 277.6,276.4 277.6,276.7 276.8,275.7 277.5,274.6 277.3,272.9 277.8,273.3 278.2,272.1 279.7,271.5 279.3,269.7 280.0,269.4 280.2,268.7 281.9,268.2 281.6,267.6 282.8,267.3 284.7,268.6 285.0,269.4 286.0,269.3 286.4,269.9 286.4,270.8 287.5,272.9 287.0,272.4 288.4,274.0 287.8,274.4 288.4,276.1 288.4,276.4 288.1,278.0 288.3,278.3 289.7,278.7 289.8,280.7 289.9,281.4 289.5,281.8 289.8,283.2 290.2,283.6 291.5,285.0 291.7,285.3 291.3,286.6 291.6,287.0 291.8,287.7 292.1,289.9 293.2,290.4 292.9,290.9 292.6,291.8 293.9,293.6 294.0,294.1 295.2,294.6 295.7,295.3 296.2,296.0 296.9,296.5 298.1,296.4 298.9,296.4 300.1,296.0 300.7,296.2 301.9,296.3 303.0,296.5 304.1,296.6 304.9,296.7 306.1,296.9 306.9,297.0 308.1,297.0 309.2,297.2 310.0,297.2 310.9,297.5 312.1,297.7 313.0,297.9 314.0,298.1 315.0,298.4 316.0,298.6 316.0,298.6" fill="#b9b9b9" stroke="#000" stroke-width="1.15" stroke-linejoin="round"/>
<polyline points="263.9,296.9 264.7,295.9 265.2,295.3 265.3,294.6 265.8,293.7 266.4,292.4 267.5,292.8 267.6,291.1 269.0,291.6 269.5,290.0 270.8,288.7 271.2,288.4 270.6,287.4 271.3,287.6 271.5,286.4 272.6,285.2 272.8,283.8 272.4,283.2 273.8,282.6 273.6,282.0 274.2,280.7 275.0,280.4 274.4,279.3 275.1,278.9 275.7,277.1 276.3,275.9 275.7,276.1 275.5,274.8 275.6,274.2 277.0,273.1 277.6,271.8 277.8,271.4 278.0,270.2 278.9,270.1 278.8,268.8 278.9,268.1 280.7,267.8 281.9,266.0 282.0,265.9 282.5,266.0 283.7,265.9 284.6,267.4 285.3,267.3 286.4,269.1 286.5,269.2 287.9,270.6 288.6,271.5 288.0,271.6 288.4,273.3 289.6,273.0 288.6,274.0 289.0,275.3 289.8,275.8 289.1,277.0 290.0,278.1 291.2,279.2 290.7,280.0 291.2,280.0 291.9,282.0 292.1,282.9 291.6,283.2 291.4,284.4 291.5,284.4 292.0,285.5 292.6,286.3 292.5,287.4 293.1,288.8 293.3,290.6 294.7,290.4 294.9,291.4 295.9,291.7 297.5,293.7 297.5,292.2 297.5,290.8 298.5,290.2 299.9,289.3 299.2,289.7 301.0,288.9 302.1,289.2 303.0,291.3 304.6,291.1 304.6,291.0 305.5,291.9 307.1,291.8 307.7,290.7 309.5,291.8 310.3,292.0 311.0,292.4 310.8,292.5 311.8,292.3 312.4,293.2 313.7,294.2 315.5,294.4 316.4,295.3 317.4,295.0 317.8,295.3 318.8,295.4 320.1,296.1 321.2,295.9 322.1,296.2 322.7,296.4 324.2,296.8 325.1,297.0 326.0,297.3" fill="none" stroke="#000" stroke-width="1.6" stroke-linejoin="round"/>
<polygon points="276.5,257.5 277.5,256.3 278.8,253.0 279.7,249.5 280.8,245.4 282.4,250.9 284.5,248.8 285.8,253.0 287.0,257.5 283.0,259.0 280.0,259.0" fill="#000" stroke="none"/>
<polyline points="245.1,297.8 245.9,297.3 246.8,296.5 247.2,296.4 248.1,295.4 249.6,295.1 250.1,295.7 250.5,296.2 251.2,297.3 251.8,296.6 252.6,295.4 253.5,295.2 253.9,294.7 255.4,295.3 256.1,295.8 257.0,295.9 257.6,295.9 258.6,296.2 259.9,295.5 260.4,295.7 262.0,295.9 262.8,295.8 263.0,294.9 263.1,294.1 263.7,293.7 264.2,292.8 264.8,291.9 264.7,289.4 265.7,290.2 266.5,288.8 266.9,287.5 267.8,287.5 267.1,285.7 268.3,286.5 267.2,285.2 268.0,283.1 268.0,283.3 269.3,281.1 269.1,280.2 269.5,279.7 270.0,279.9 269.5,278.9 269.4,276.2 270.1,275.2 269.6,274.8 270.7,273.4 270.0,273.7 270.8,272.8 272.3,270.8 271.8,270.0 272.5,269.2 272.8,268.2 273.8,267.0 273.3,266.4 273.1,264.6 274.6,264.0 274.0,262.1 273.9,262.1 273.4,261.2 274.7,259.2 274.8,258.9 275.5,258.0 276.1,258.0 275.5,256.1 277.2,257.0 277.0,255.3 278.1,254.3 278.2,253.5 278.7,253.3 279.0,252.1 280.0,250.5 279.8,250.9 279.5,249.1 280.6,248.2 279.6,247.7 280.7,246.2 280.2,245.7 281.4,245.3 281.7,245.7 281.0,247.5 282.3,248.1 281.4,248.4 282.2,249.4 283.0,251.5 282.5,249.8 284.2,249.8 284.9,248.5 283.9,249.5 285.3,250.5 284.8,251.8 285.2,252.8 286.5,253.3 285.3,255.7 287.3,256.7 286.9,257.6 287.9,257.3 287.8,259.3 287.8,259.7 287.2,260.4 287.3,260.9 288.1,262.2 288.7,262.8 289.1,264.9 289.3,266.3 289.5,266.7 288.2,267.9 288.7,268.1 289.9,269.5 289.6,271.2 290.2,271.1 289.8,273.0 290.4,273.9 290.4,273.8 290.9,275.9 290.5,276.9 292.0,277.9 292.1,277.4 292.0,279.9 291.2,279.8 291.8,281.3 292.3,282.1 293.2,282.3 292.2,283.5 292.5,284.3 294.9,286.3 294.1,286.3 295.3,286.5 296.2,287.7 297.4,286.5 297.5,285.7 298.2,285.5 300.0,284.5 299.6,283.4 300.9,285.0 302.3,285.3 303.0,286.5 303.1,286.8 304.0,288.1 304.6,288.8 305.8,288.0 307.1,288.9 307.2,288.0 308.7,288.5 310.6,287.2 310.9,288.9 310.2,289.3 310.4,291.0 311.8,292.1 312.4,290.9 312.7,289.8 311.9,289.0 312.1,287.4 313.9,286.3 313.1,285.6 314.8,286.6 313.6,288.7 314.1,289.6 315.5,290.5 316.3,290.9 316.7,290.5 317.4,292.0 318.0,291.8 318.7,293.8 318.7,292.6 320.7,293.3 321.2,291.9 321.8,293.5 323.0,294.0 322.9,294.8 323.4,295.6 323.7,296.5 325.4,296.8 326.4,296.9 327.1,296.7 327.8,296.0 328.4,295.5 329.6,294.4 329.3,295.9 330.5,296.7 330.8,297.7 331.8,297.6 332.8,297.8 333.9,297.8 335.0,298.1 335.9,298.1 336.8,298.1 337.8,298.0 338.7,298.0 339.6,298.1 340.5,298.1 341.5,298.1 342.4,298.2 343.3,298.1 344.3,298.2 345.2,298.2 346.1,298.2 347.1,298.2 348.0,298.3 348.9,298.2 349.8,298.3 350.8,298.3 351.7,298.2 352.6,298.3 353.5,298.3 354.5,298.3 355.4,298.4 356.3,298.3 357.2,298.3 358.1,298.4 359.1,298.4 360.0,298.4" fill="none" stroke="#000" stroke-width="1.8" stroke-linejoin="round"/>
<line x1="244.7" y1="207.6" x2="359.8" y2="207.6" stroke="#1a1a1a" stroke-width="1.3"/>
<line x1="359.8" y1="207.6" x2="359.8" y2="298.6" stroke="#3a3a3a" stroke-width="1.2"/>
<line x1="244.7" y1="207.0" x2="244.7" y2="299.5" stroke="#000" stroke-width="1.6"/>
<line x1="243.89999999999998" y1="298.6" x2="360.3" y2="298.6" stroke="#000" stroke-width="1.55"/>
<path d="M241.50,298.60H244.7M242.90,294.96H244.7M242.90,291.32H244.7M242.90,287.68H244.7M242.90,284.04H244.7M241.50,280.40H244.7M242.90,276.76H244.7M242.90,273.12H244.7M242.90,269.48H244.7M242.90,265.84H244.7M241.50,262.20H244.7M242.90,258.56H244.7M242.90,254.92H244.7M242.90,251.28H244.7M242.90,247.64H244.7M241.50,244.00H244.7M242.90,240.36H244.7M242.90,236.72H244.7M242.90,233.08H244.7M242.90,229.44H244.7M241.50,225.80H244.7M242.90,222.16H244.7M242.90,218.52H244.7M242.90,214.88H244.7M242.90,211.24H244.7M241.50,207.60H244.7M244.70,298.6V302.10M253.36,298.6V300.60M258.43,298.6V300.60M262.02,298.6V300.60M264.81,298.6V300.60M267.09,298.6V300.60M269.02,298.6V300.60M270.69,298.6V300.60M272.16,298.6V300.60M273.48,298.6V302.10M282.14,298.6V300.60M287.20,298.6V300.60M290.80,298.6V300.60M293.59,298.6V300.60M295.87,298.6V300.60M297.79,298.6V300.60M299.46,298.6V300.60M300.93,298.6V300.60M302.25,298.6V302.10M310.91,298.6V300.60M315.98,298.6V300.60M319.57,298.6V300.60M322.36,298.6V300.60M324.64,298.6V300.60M326.57,298.6V300.60M328.24,298.6V300.60M329.71,298.6V300.60M331.02,298.6V302.10M339.69,298.6V300.60M344.75,298.6V300.60M348.35,298.6V300.60M351.14,298.6V300.60M353.42,298.6V300.60M355.34,298.6V300.60M357.01,298.6V300.60M358.48,298.6V300.60M359.80,298.6V302.10" stroke="#000" stroke-width="0.9" fill="none"/>
<text transform="translate(239.10,297.00) rotate(-90)" text-anchor="middle" font-size="6.8" fill="#000" stroke="#000" stroke-width="0.2">0</text>
<text transform="translate(239.10,279.08) rotate(-90)" text-anchor="middle" font-size="6.8" fill="#000" stroke="#000" stroke-width="0.2">10</text>
<text transform="translate(239.10,261.16) rotate(-90)" text-anchor="middle" font-size="6.8" fill="#000" stroke="#000" stroke-width="0.2">20</text>
<text transform="translate(239.10,243.24) rotate(-90)" text-anchor="middle" font-size="6.8" fill="#000" stroke="#000" stroke-width="0.2">30</text>
<text transform="translate(239.10,225.32) rotate(-90)" text-anchor="middle" font-size="6.8" fill="#000" stroke="#000" stroke-width="0.2">40</text>
<text transform="translate(239.10,207.40) rotate(-90)" text-anchor="middle" font-size="6.8" fill="#000" stroke="#000" stroke-width="0.2">50</text>
<text transform="translate(231.10,254.60) rotate(-90)" text-anchor="middle" font-size="6.9" fill="#000" stroke="#000" stroke-width="0.15">Counts</text>
<text x="240.50" y="310.10" font-size="6.4" fill="#000" stroke="#000" stroke-width="0.2">10</text>
<text x="247.70" y="306.50" font-size="6.3" fill="#000" stroke="#000" stroke-width="0.15">0</text>
<text x="268.99" y="310.10" font-size="6.4" fill="#000" stroke="#000" stroke-width="0.2">10</text>
<text x="276.19" y="306.50" font-size="6.3" fill="#000" stroke="#000" stroke-width="0.15">1</text>
<text x="297.47" y="310.10" font-size="6.4" fill="#000" stroke="#000" stroke-width="0.2">10</text>
<text x="304.67" y="306.50" font-size="6.3" fill="#000" stroke="#000" stroke-width="0.15">2</text>
<text x="325.96" y="310.10" font-size="6.4" fill="#000" stroke="#000" stroke-width="0.2">10</text>
<text x="333.16" y="306.50" font-size="6.3" fill="#000" stroke="#000" stroke-width="0.15">3</text>
<text x="354.45" y="310.10" font-size="6.4" fill="#000" stroke="#000" stroke-width="0.2">10</text>
<text x="361.65" y="306.50" font-size="6.3" fill="#000" stroke="#000" stroke-width="0.15">4</text>
<text x="302.25" y="316.80" text-anchor="middle" font-size="6.5" fill="#000" stroke="#000" stroke-width="0.2">FL3-H</text>
<polygon points="405.0,297.6 405.0,297.5 406.0,297.3 406.9,297.1 407.8,296.8 408.9,296.7 409.9,296.3 410.7,296.1 411.4,295.6 411.7,294.7 412.4,294.5 413.5,293.2 414.2,292.4 414.7,291.7 414.5,292.0 415.4,290.4 416.9,290.5 416.4,289.7 417.2,288.5 417.2,288.0 418.4,287.2 419.1,285.4 418.8,284.4 419.0,283.4 419.6,283.3 419.6,282.5 420.5,281.1 421.5,280.4 421.2,279.5 422.2,278.1 423.0,277.1 423.0,277.4 422.5,276.5 423.4,275.4 423.4,273.8 424.1,274.3 424.5,273.2 426.0,272.6 425.8,271.1 426.6,271.0 426.7,270.2 428.2,269.7 427.8,269.1 428.5,267.4 430.0,267.4 430.3,266.6 431.2,266.4 431.6,266.9 431.9,267.5 433.5,269.7 433.5,269.4 435.7,269.3 435.9,268.1 437.3,268.9 438.2,268.2 438.4,269.6 439.0,269.7 440.8,269.9 441.3,271.7 441.9,272.2 441.7,272.6 442.4,274.0 443.2,274.3 444.7,275.8 445.3,276.1 445.2,277.3 445.9,277.4 446.4,277.9 447.1,279.7 448.6,279.9 448.6,280.2 448.9,280.5 450.7,281.8 451.0,282.2 452.5,282.5 453.5,282.6 454.2,282.5 455.3,282.2 456.4,283.3 456.2,284.6 457.1,284.9 456.6,285.7 457.4,286.8 458.1,287.8 459.1,288.7 459.3,289.3 460.5,290.4 460.6,291.3 462.2,291.7 463.1,292.7 463.4,292.8 463.9,293.7 465.5,293.7 466.1,294.2 467.0,294.0 467.9,294.6 468.6,294.8 469.5,295.3 470.5,295.4 471.1,295.2 472.3,295.6 473.2,295.7 474.4,295.5 475.3,295.8 476.1,295.9 477.1,296.7 478.0,297.5 478.0,297.6" fill="#b9b9b9" stroke="#000" stroke-width="1.15" stroke-linejoin="round"/>
<polyline points="413.7,290.4 414.8,289.5 415.2,289.1 415.0,288.5 415.6,287.6 416.2,286.2 417.4,286.5 417.3,284.7 418.6,285.0 418.9,283.3 420.0,281.8 420.2,281.4 419.5,280.2 420.2,280.5 420.4,279.1 421.5,277.8 421.8,276.3 421.4,275.5 422.8,274.9 422.4,274.3 422.9,272.9 423.6,272.7 423.0,271.6 423.7,271.2 424.2,269.4 424.8,268.3 424.2,268.4 423.9,267.0 423.9,266.3 425.2,265.1 425.5,263.7 425.4,263.2 425.3,261.9 425.9,261.7 425.5,260.3 424.9,259.3 425.9,258.8 426.3,256.7 425.7,256.3 425.2,254.9 425.6,253.4 425.5,253.4 425.7,251.6 426.3,251.6 425.9,249.9 426.8,249.6 427.4,248.6 426.6,246.9 427.5,247.1 429.2,245.4 429.5,245.6 430.9,247.0 431.6,247.6 430.9,248.9 431.7,250.1 432.8,251.3 432.3,252.2 432.7,252.3 433.2,254.4 433.3,255.5 432.7,255.8 432.4,257.2 432.5,257.3 432.8,258.5 433.2,259.3 432.8,260.4 433.2,261.8 433.2,263.6 434.3,263.4 433.9,264.8 434.3,265.4 435.3,267.8 434.9,268.0 434.5,268.4 435.1,269.6 436.1,270.5 435.0,272.7 436.0,272.4 436.3,273.2 436.5,275.8 437.2,276.3 436.5,276.8 436.5,278.4 437.3,279.4 437.2,279.6 438.2,281.8 438.6,282.5 438.8,283.4 438.1,284.0 438.5,284.2 438.2,285.6 439.0,287.3 440.5,287.9 440.9,289.8 441.3,289.8 440.6,290.6 441.0,291.4 442.2,293.3 442.9,293.6 443.0,294.5" fill="none" stroke="#000" stroke-width="1.4" stroke-linejoin="round"/>
<polygon points="424.5,251.0 425.2,243.0 425.7,241.3 427.0,243.0 429.0,243.5 430.8,240.0 431.6,239.1 432.6,244.0 433.3,251.0 429.0,252.0" fill="#000" stroke="none"/>
<polyline points="393.4,297.0 394.3,296.8 395.3,296.4 396.0,296.4 397.0,295.9 398.3,295.7 399.1,295.5 400.0,295.1 401.0,295.4 401.9,295.2 403.0,294.5 404.0,294.7 404.6,294.1 406.1,294.3 406.9,294.6 407.9,294.5 408.3,293.9 409.1,293.6 410.5,291.9 410.1,291.5 412.3,291.4 412.4,290.6 412.8,289.9 413.1,289.4 414.1,289.1 414.8,288.3 415.7,287.5 415.8,285.1 416.5,285.6 417.0,283.9 417.0,282.4 417.6,282.1 417.0,280.3 418.4,281.0 417.4,279.7 418.2,277.7 418.3,277.9 419.6,275.6 419.4,274.7 419.9,274.3 420.4,274.6 420.0,273.7 420.0,271.1 420.7,270.1 420.2,269.8 421.1,268.4 420.3,268.8 421.0,268.0 422.2,266.0 421.6,265.3 422.2,264.5 422.2,263.6 423.1,262.5 422.4,261.9 422.2,260.2 423.7,259.6 423.1,257.7 423.0,257.7 422.5,256.8 423.7,254.8 423.9,254.6 424.2,253.4 424.4,253.1 423.2,250.9 424.5,251.6 423.8,249.7 424.5,248.4 424.1,247.4 424.2,246.9 424.2,245.6 425.1,243.9 424.8,244.2 424.8,242.1 426.0,240.8 426.4,240.9 427.9,241.3 427.7,242.7 429.1,243.9 429.9,242.4 429.7,242.3 431.0,240.9 430.2,239.4 431.1,238.5 431.7,240.7 430.7,240.6 432.0,242.2 432.1,242.7 431.0,243.5 432.4,244.5 431.7,245.7 432.0,246.6 433.0,247.1 431.6,249.4 433.3,250.5 432.7,251.3 433.8,250.9 433.7,253.0 433.7,253.3 433.2,253.9 433.3,254.3 434.1,255.6 434.7,256.1 435.0,258.2 435.2,259.5 435.4,259.8 433.9,261.0 434.4,261.1 435.5,262.5 435.2,264.1 435.8,264.0 435.3,265.9 435.9,266.6 435.9,266.5 436.4,268.5 435.9,269.4 437.4,270.4 437.5,269.9 437.3,272.3 436.4,272.2 437.0,273.6 437.5,274.4 438.3,274.5 437.2,275.6 437.5,276.4 439.2,278.8 437.8,279.1 438.4,279.7 438.7,281.2 439.3,281.6 438.8,282.5 438.8,283.8 440.1,284.5 439.2,285.1 440.0,286.8 440.9,287.4 441.2,288.8 440.8,289.4 441.3,290.8 441.6,291.7 442.2,291.8 442.7,293.4 442.6,293.9 443.9,294.7 445.3,294.5 446.1,295.1 446.5,295.2 447.4,295.7 448.6,295.9 449.6,295.8 450.5,295.9 451.1,296.0 452.0,296.0 453.3,296.1 453.9,296.2 455.1,296.4 455.8,296.6 456.7,296.6 457.8,296.7 458.8,296.6 459.6,296.4 460.5,296.6 461.4,296.5 462.4,296.8 463.1,296.6 464.1,296.8 464.9,296.6 465.9,296.7 466.9,296.7 467.7,296.7 468.6,296.7 469.5,296.8 470.6,296.8 471.5,296.7 472.3,296.9 473.3,296.9 474.1,296.9 475.1,296.8 475.9,297.0 476.9,296.9 477.8,297.0 478.6,296.9 479.5,297.0 480.5,297.0 481.4,297.1 482.3,297.1 483.2,297.1 484.2,297.0 485.0,297.0 486.0,297.1 486.8,297.1 487.8,297.2 488.6,297.2 489.6,297.2 490.5,297.2 491.5,297.2 492.3,297.3 493.3,297.2 494.2,297.3 495.1,297.3 496.0,297.3 496.9,297.4 497.8,297.3 498.7,297.3 499.6,297.4 500.6,297.4 501.4,297.4 502.3,297.4 503.3,297.4 504.2,297.5 505.1,297.5 506.0,297.5" fill="none" stroke="#000" stroke-width="1.8" stroke-linejoin="round"/>
<line x1="393.4" y1="207.8" x2="506.5" y2="207.8" stroke="#1a1a1a" stroke-width="1.3"/>
<line x1="506.5" y1="207.8" x2="506.5" y2="297.6" stroke="#3a3a3a" stroke-width="1.2"/>
<line x1="393.4" y1="207.20000000000002" x2="393.4" y2="298.5" stroke="#000" stroke-width="1.6"/>
<line x1="392.59999999999997" y1="297.6" x2="507.0" y2="297.6" stroke="#000" stroke-width="1.55"/>
<path d="M390.20,297.60H393.4M391.60,294.01H393.4M391.60,290.42H393.4M391.60,286.82H393.4M391.60,283.23H393.4M390.20,279.64H393.4M391.60,276.05H393.4M391.60,272.46H393.4M391.60,268.86H393.4M391.60,265.27H393.4M390.20,261.68H393.4M391.60,258.09H393.4M391.60,254.50H393.4M391.60,250.90H393.4M391.60,247.31H393.4M390.20,243.72H393.4M391.60,240.13H393.4M391.60,236.54H393.4M391.60,232.94H393.4M391.60,229.35H393.4M390.20,225.76H393.4M391.60,222.17H393.4M391.60,218.58H393.4M391.60,214.98H393.4M391.60,211.39H393.4M390.20,207.80H393.4M393.40,297.6V301.10M401.91,297.6V299.60M406.89,297.6V299.60M410.42,297.6V299.60M413.16,297.6V299.60M415.40,297.6V299.60M417.30,297.6V299.60M418.93,297.6V299.60M420.38,297.6V299.60M421.67,297.6V301.10M430.19,297.6V299.60M435.17,297.6V299.60M438.70,297.6V299.60M441.44,297.6V299.60M443.68,297.6V299.60M445.57,297.6V299.60M447.21,297.6V299.60M448.66,297.6V299.60M449.95,297.6V301.10M458.46,297.6V299.60M463.44,297.6V299.60M466.97,297.6V299.60M469.71,297.6V299.60M471.95,297.6V299.60M473.85,297.6V299.60M475.48,297.6V299.60M476.93,297.6V299.60M478.23,297.6V301.10M486.74,297.6V299.60M491.72,297.6V299.60M495.25,297.6V299.60M497.99,297.6V299.60M500.23,297.6V299.60M502.12,297.6V299.60M503.76,297.6V299.60M505.21,297.6V299.60M506.50,297.6V301.10" stroke="#000" stroke-width="0.9" fill="none"/>
<text transform="translate(387.80,296.00) rotate(-90)" text-anchor="middle" font-size="6.8" fill="#000" stroke="#000" stroke-width="0.2">0</text>
<text transform="translate(387.80,278.32) rotate(-90)" text-anchor="middle" font-size="6.8" fill="#000" stroke="#000" stroke-width="0.2">10</text>
<text transform="translate(387.80,260.64) rotate(-90)" text-anchor="middle" font-size="6.8" fill="#000" stroke="#000" stroke-width="0.2">20</text>
<text transform="translate(387.80,242.96) rotate(-90)" text-anchor="middle" font-size="6.8" fill="#000" stroke="#000" stroke-width="0.2">30</text>
<text transform="translate(387.80,225.28) rotate(-90)" text-anchor="middle" font-size="6.8" fill="#000" stroke="#000" stroke-width="0.2">40</text>
<text transform="translate(387.80,207.60) rotate(-90)" text-anchor="middle" font-size="6.8" fill="#000" stroke="#000" stroke-width="0.2">50</text>
<text transform="translate(379.80,254.20) rotate(-90)" text-anchor="middle" font-size="6.9" fill="#000" stroke="#000" stroke-width="0.15">Counts</text>
<text x="389.20" y="309.10" font-size="6.4" fill="#000" stroke="#000" stroke-width="0.2">10</text>
<text x="396.40" y="305.50" font-size="6.3" fill="#000" stroke="#000" stroke-width="0.15">0</text>
<text x="417.19" y="309.10" font-size="6.4" fill="#000" stroke="#000" stroke-width="0.2">10</text>
<text x="424.39" y="305.50" font-size="6.3" fill="#000" stroke="#000" stroke-width="0.15">1</text>
<text x="445.18" y="309.10" font-size="6.4" fill="#000" stroke="#000" stroke-width="0.2">10</text>
<text x="452.38" y="305.50" font-size="6.3" fill="#000" stroke="#000" stroke-width="0.15">2</text>
<text x="473.18" y="309.10" font-size="6.4" fill="#000" stroke="#000" stroke-width="0.2">10</text>
<text x="480.38" y="305.50" font-size="6.3" fill="#000" stroke="#000" stroke-width="0.15">3</text>
<text x="501.17" y="309.10" font-size="6.4" fill="#000" stroke="#000" stroke-width="0.2">10</text>
<text x="508.37" y="305.50" font-size="6.3" fill="#000" stroke="#000" stroke-width="0.15">4</text>
<text x="449.95" y="315.80" text-anchor="middle" font-size="6.5" fill="#000" stroke="#000" stroke-width="0.2">FL3-H</text>
<polygon points="113.0,421.4 113.0,421.0 114.2,420.9 115.3,420.7 115.7,419.9 116.7,419.2 117.3,418.2 117.5,417.5 118.2,417.1 118.1,416.0 119.1,416.2 120.4,414.5 121.2,413.8 121.6,413.1 121.4,413.4 122.4,411.9 124.2,412.2 124.0,411.7 125.1,410.7 125.3,410.5 126.7,410.0 127.8,408.4 127.9,407.6 128.4,406.8 129.5,406.9 129.9,406.3 131.2,405.4 132.7,405.2 132.9,404.8 134.3,403.8 135.3,403.1 135.7,403.5 135.4,402.8 136.5,401.8 136.7,400.4 137.8,401.2 138.7,400.5 140.6,400.3 140.6,399.1 141.6,399.0 141.9,398.2 143.1,397.4 142.4,396.6 142.8,394.8 143.8,394.6 143.8,393.7 144.3,391.9 144.2,390.8 144.1,389.9 145.2,390.1 144.7,387.9 146.1,387.7 145.5,386.3 145.9,388.0 145.9,388.4 145.5,389.9 145.6,390.2 146.9,390.6 146.9,392.7 146.9,393.3 146.4,393.7 146.6,395.2 148.0,394.2 150.2,394.4 151.0,394.6 151.1,395.8 151.9,396.0 152.6,396.3 153.3,398.1 154.9,398.1 154.9,396.9 154.9,396.0 156.5,396.0 156.5,395.1 157.9,394.2 158.5,393.5 158.3,394.3 158.4,394.9 159.3,396.1 158.9,397.3 159.6,397.7 158.9,398.6 159.5,399.6 160.5,400.6 161.6,401.4 162.0,402.0 162.8,403.2 162.5,404.1 163.5,404.9 163.9,406.2 163.6,406.5 163.3,407.9 164.8,408.3 164.8,409.5 165.2,409.6 165.6,411.1 165.7,411.8 166.0,413.2 166.4,414.0 166.1,414.0 167.3,415.5 167.7,416.3 168.7,416.4 169.3,417.3 169.8,417.8 170.8,418.5 171.5,419.1 172.9,419.7 174.1,420.1 175.0,420.6 176.0,421.0 176.0,421.4" fill="#b9b9b9" stroke="#000" stroke-width="1.15" stroke-linejoin="round"/>
<polyline points="124.2,394.4 125.0,393.3 125.2,392.8 124.7,392.0 125.0,390.9 125.3,389.3 126.2,389.5 126.0,387.6 127.1,387.7 127.3,385.8 128.2,384.3 128.3,383.7 127.4,382.4 127.9,382.5 128.0,381.1 129.0,379.8 129.1,378.3 128.5,377.5 129.8,376.9 129.5,376.1 129.9,374.7 130.8,374.3 130.1,373.1 130.8,372.6 131.5,370.8 132.2,369.6 131.6,369.8 131.4,368.5 131.6,369.6 133.0,370.4 133.5,370.8 133.5,372.2 133.5,372.9 134.2,374.7 133.8,375.3 133.4,376.3 134.5,377.8 135.0,377.7 134.4,379.3 134.0,379.9 134.4,380.4 134.3,382.4 134.6,382.6 135.2,384.6 134.8,384.9 135.7,386.6 136.2,387.6 135.5,387.9 135.8,389.6 136.9,389.4 135.8,390.6 136.1,392.0 136.8,392.6 136.0,393.9 137.0,395.0" fill="none" stroke="#000" stroke-width="1.4" stroke-linejoin="round"/>
<polyline points="94.5,420.8 95.4,420.8 96.4,420.6 97.1,420.8 98.1,420.6 99.2,420.6 100.1,420.6 101.1,420.3 102.1,420.4 103.1,420.2 104.2,419.7 105.2,419.7 106.0,419.3 107.4,419.4 108.3,419.5 109.3,419.4 110.1,419.1 111.0,419.0 112.3,418.0 112.4,417.8 114.1,417.7 114.6,417.3 115.0,416.4 115.2,415.8 116.2,415.5 116.8,414.6 117.6,413.8 117.8,411.4 118.5,412.0 118.9,410.4 118.9,408.9 119.5,408.6 118.9,406.8 120.2,407.6 119.2,406.4 120.1,404.4 120.4,404.5 121.8,402.3 121.8,401.3 122.4,400.9 123.2,401.1 122.9,400.2 122.9,397.7 123.7,396.8 123.3,396.6 124.3,395.3 123.6,395.7 124.4,395.0 125.7,393.1 125.2,392.5 125.8,391.7 125.9,390.8 126.8,389.6 126.1,389.0 126.0,387.3 127.6,386.7 127.1,384.8 127.1,384.9 126.6,384.0 127.9,382.0 128.1,381.8 128.5,380.6 128.7,380.3 127.7,378.1 129.1,378.8 128.6,376.9 129.5,375.7 129.3,374.7 129.5,374.2 129.6,372.9 130.7,371.2 130.5,371.6 130.2,369.7 131.3,368.7 130.4,368.1 131.5,366.5 131.0,366.0 132.1,365.2 132.5,365.7 131.9,367.6 133.2,368.3 132.4,368.7 133.3,369.8 134.0,372.0 133.0,372.0 134.4,373.7 134.6,374.2 133.5,375.1 135.2,376.0 134.8,377.1 135.3,378.0 136.7,378.4 135.1,380.7 136.8,381.7 136.1,382.6 137.1,382.2 136.8,384.3 136.8,384.6 136.2,385.2 136.2,385.7 137.0,387.0 137.5,387.5 137.8,389.6 138.0,390.9 138.1,391.2 136.7,392.5 137.1,392.6 138.2,393.9 137.9,395.6 138.4,395.5 137.9,397.3 138.5,398.1 138.4,398.0 138.9,400.1 138.5,401.0 140.0,401.9 140.0,401.4 139.9,403.9 139.0,403.8 139.6,405.2 140.1,406.1 141.0,406.2 140.0,407.5 140.5,408.4 142.3,410.8 141.1,411.2 141.8,411.9 142.2,413.5 142.9,414.0 142.5,415.0 142.8,416.4 144.2,417.0 144.1,417.7 145.0,419.0 146.5,419.2 147.8,419.8 148.8,419.2 150.0,419.1 150.9,419.1 151.9,418.9 153.0,419.2 153.6,419.1 154.9,419.5 156.2,419.2 157.1,419.7 157.8,419.7 158.8,420.1 160.1,420.3 161.0,420.3 161.9,420.3 162.6,420.3 163.5,420.1 164.6,420.1 165.3,420.2 166.5,420.2 167.1,420.4 168.1,420.4 169.1,420.5 170.1,420.4 171.0,420.2 171.9,420.4 172.8,420.3 173.7,420.5 174.4,420.4 175.5,420.5 176.3,420.4 177.2,420.5 178.3,420.5 179.1,420.5 180.0,420.5 180.8,420.5 181.9,420.5 182.8,420.5 183.7,420.6 184.6,420.6 185.5,420.6 186.5,420.5 187.2,420.7 188.3,420.7 189.1,420.7 189.9,420.6 190.8,420.7 191.8,420.7 192.8,420.8 193.6,420.8 194.5,420.8 195.5,420.7 196.3,420.7 197.3,420.8 198.1,420.8 199.1,420.9 199.9,420.9 200.9,420.9 201.8,420.9 202.8,420.9 203.6,420.9 204.6,420.9 205.5,421.0 206.4,420.9 207.2,421.0 208.2,421.0 209.1,421.0 210.0,421.0" fill="none" stroke="#000" stroke-width="1.8" stroke-linejoin="round"/>
<line x1="94.7" y1="331.1" x2="210.5" y2="331.1" stroke="#1a1a1a" stroke-width="1.3"/>
<line x1="210.5" y1="331.1" x2="210.5" y2="421.4" stroke="#3a3a3a" stroke-width="1.2"/>
<line x1="94.7" y1="330.5" x2="94.7" y2="422.29999999999995" stroke="#000" stroke-width="1.6"/>
<line x1="93.9" y1="421.4" x2="211.0" y2="421.4" stroke="#000" stroke-width="1.55"/>
<path d="M91.50,421.40H94.7M92.90,417.79H94.7M92.90,414.18H94.7M92.90,410.56H94.7M92.90,406.95H94.7M91.50,403.34H94.7M92.90,399.73H94.7M92.90,396.12H94.7M92.90,392.50H94.7M92.90,388.89H94.7M91.50,385.28H94.7M92.90,381.67H94.7M92.90,378.06H94.7M92.90,374.44H94.7M92.90,370.83H94.7M91.50,367.22H94.7M92.90,363.61H94.7M92.90,360.00H94.7M92.90,356.38H94.7M92.90,352.77H94.7M91.50,349.16H94.7M92.90,345.55H94.7M92.90,341.94H94.7M92.90,338.32H94.7M92.90,334.71H94.7M91.50,331.10H94.7M94.70,421.4V424.90M103.41,421.4V423.40M108.51,421.4V423.40M112.13,421.4V423.40M114.94,421.4V423.40M117.23,421.4V423.40M119.17,421.4V423.40M120.84,421.4V423.40M122.33,421.4V423.40M123.65,421.4V424.90M132.36,421.4V423.40M137.46,421.4V423.40M141.08,421.4V423.40M143.89,421.4V423.40M146.18,421.4V423.40M148.12,421.4V423.40M149.79,421.4V423.40M151.28,421.4V423.40M152.60,421.4V424.90M161.31,421.4V423.40M166.41,421.4V423.40M170.03,421.4V423.40M172.84,421.4V423.40M175.13,421.4V423.40M177.07,421.4V423.40M178.74,421.4V423.40M180.23,421.4V423.40M181.55,421.4V424.90M190.26,421.4V423.40M195.36,421.4V423.40M198.98,421.4V423.40M201.79,421.4V423.40M204.08,421.4V423.40M206.02,421.4V423.40M207.69,421.4V423.40M209.18,421.4V423.40M210.50,421.4V424.90" stroke="#000" stroke-width="0.9" fill="none"/>
<text transform="translate(89.10,419.80) rotate(-90)" text-anchor="middle" font-size="6.8" fill="#000" stroke="#000" stroke-width="0.2">0</text>
<text transform="translate(89.10,402.02) rotate(-90)" text-anchor="middle" font-size="6.8" fill="#000" stroke="#000" stroke-width="0.2">10</text>
<text transform="translate(89.10,384.24) rotate(-90)" text-anchor="middle" font-size="6.8" fill="#000" stroke="#000" stroke-width="0.2">20</text>
<text transform="translate(89.10,366.46) rotate(-90)" text-anchor="middle" font-size="6.8" fill="#000" stroke="#000" stroke-width="0.2">30</text>
<text transform="translate(89.10,348.68) rotate(-90)" text-anchor="middle" font-size="6.8" fill="#000" stroke="#000" stroke-width="0.2">40</text>
<text transform="translate(89.10,330.90) rotate(-90)" text-anchor="middle" font-size="6.8" fill="#000" stroke="#000" stroke-width="0.2">50</text>
<text transform="translate(81.10,377.75) rotate(-90)" text-anchor="middle" font-size="6.9" fill="#000" stroke="#000" stroke-width="0.15">Counts</text>
<text x="90.50" y="432.90" font-size="6.4" fill="#000" stroke="#000" stroke-width="0.2">10</text>
<text x="97.70" y="429.30" font-size="6.3" fill="#000" stroke="#000" stroke-width="0.15">0</text>
<text x="119.16" y="432.90" font-size="6.4" fill="#000" stroke="#000" stroke-width="0.2">10</text>
<text x="126.36" y="429.30" font-size="6.3" fill="#000" stroke="#000" stroke-width="0.15">1</text>
<text x="147.82" y="432.90" font-size="6.4" fill="#000" stroke="#000" stroke-width="0.2">10</text>
<text x="155.02" y="429.30" font-size="6.3" fill="#000" stroke="#000" stroke-width="0.15">2</text>
<text x="176.48" y="432.90" font-size="6.4" fill="#000" stroke="#000" stroke-width="0.2">10</text>
<text x="183.68" y="429.30" font-size="6.3" fill="#000" stroke="#000" stroke-width="0.15">3</text>
<text x="205.14" y="432.90" font-size="6.4" fill="#000" stroke="#000" stroke-width="0.2">10</text>
<text x="212.34" y="429.30" font-size="6.3" fill="#000" stroke="#000" stroke-width="0.15">4</text>
<text x="152.60" y="439.60" text-anchor="middle" font-size="6.5" fill="#000" stroke="#000" stroke-width="0.2">FL3-H</text>
<polygon points="264.0,420.9 264.0,420.8 265.4,420.6 266.0,420.0 266.3,419.2 267.4,418.5 268.0,417.4 268.2,416.8 268.8,416.4 268.7,415.1 269.6,415.2 270.9,413.3 271.5,412.4 271.8,411.5 271.5,411.7 272.4,410.0 274.2,410.0 273.9,409.3 274.9,408.0 275.1,409.0 276.5,409.6 277.6,409.2 277.8,409.0 278.5,408.9 279.6,409.2 280.0,408.9 281.3,408.0 282.8,407.8 283.0,407.3 284.4,406.3 285.6,405.9 286.1,406.6 285.8,405.7 286.9,404.5 287.1,402.9 288.0,403.3 288.4,402.2 289.8,401.7 289.4,400.0 290.0,399.8 290.1,400.5 291.6,401.5 291.2,402.4 291.8,402.4 293.4,402.7 293.8,402.1 294.9,400.7 295.0,399.6 295.1,398.6 296.4,398.9 296.2,396.6 297.8,396.3 297.6,395.1 298.4,395.2 298.8,393.8 298.9,393.7 299.4,392.3 301.2,391.0 301.6,391.3 302.1,390.3 301.7,390.8 302.0,392.3 302.6,392.7 303.9,394.2 304.2,394.6 304.3,394.5 305.1,393.3 305.8,392.6 306.0,392.9 307.1,391.5 306.7,390.2 306.4,389.3 307.6,389.2 307.3,388.2 308.2,387.2 308.3,386.4 308.1,385.5 308.5,386.2 309.7,387.5 309.5,388.9 310.8,387.6 310.7,386.8 311.5,387.9 312.3,389.1 313.0,390.0 313.1,390.7 314.1,392.0 313.8,392.9 314.6,393.7 314.9,395.0 314.5,395.3 314.1,396.7 315.4,397.2 315.2,398.5 315.4,398.6 315.6,400.2 315.6,400.9 315.8,402.3 316.1,403.1 315.5,403.2 316.4,404.8 316.3,405.7 317.2,405.7 317.2,406.8 316.9,407.6 317.5,408.6 317.7,409.2 318.4,410.6 319.0,411.8 318.8,413.2 318.8,413.4 319.5,414.3 319.7,415.7 320.8,415.6 321.9,416.5 322.6,417.6 323.3,418.8 324.5,418.9 325.5,419.4 326.5,419.7 327.3,420.3 328.0,420.8 328.0,420.9" fill="#b9b9b9" stroke="#000" stroke-width="1.15" stroke-linejoin="round"/>
<polyline points="245.0,420.6 246.0,420.4 247.0,420.0 247.8,420.0 248.8,419.5 250.1,419.4 251.0,419.1 251.9,418.7 252.9,419.1 253.8,419.0 254.8,418.6 255.8,419.0 256.5,418.6 257.8,418.9 258.7,419.1 259.7,419.0 260.4,418.8 261.3,418.7 262.6,417.9 262.6,417.1 264.2,416.6 264.5,415.6 265.0,415.0 265.3,414.6 266.2,414.3 266.9,413.5 267.7,412.8 267.9,410.4 268.7,411.0 269.2,409.5 269.4,408.0 270.0,407.7 269.3,405.8 270.7,406.5 269.7,405.2 270.6,403.1 270.8,403.2 272.2,401.0 272.1,400.0 272.6,399.6 273.3,399.8 272.9,398.9 272.9,396.3 273.8,395.2 273.5,394.9 274.4,393.5 273.6,393.9 274.2,393.1 275.5,391.1 274.9,390.5 275.4,389.7 275.4,388.8 276.3,387.6 275.6,387.1 275.4,385.4 276.9,384.9 276.4,383.0 276.3,383.1 275.8,382.2 277.1,380.3 277.3,380.1 277.5,379.0 277.8,378.7 276.7,376.6 278.1,377.2 277.5,375.4 278.3,374.2 278.1,373.2 278.3,372.8 278.4,371.5 279.4,369.9 279.2,370.2 278.9,368.4 280.0,367.5 279.0,366.9 280.1,365.3 279.6,364.8 280.6,364.1 280.8,362.7 280.1,362.6 281.2,361.3 280.1,359.8 280.7,359.0 281.2,359.2 280.1,357.3 281.3,357.0 281.4,355.6 280.2,354.6 281.4,353.6 280.7,354.8 281.0,355.8 282.0,356.3 280.4,358.6 282.1,359.7 281.4,360.6 282.4,360.2 282.2,362.3 282.2,362.7 281.6,363.3 281.6,363.8 282.4,365.2 282.9,365.7 283.3,367.8 283.5,369.1 283.7,369.4 282.3,370.6 282.8,370.7 284.0,372.1 283.7,373.7 284.3,373.6 283.9,375.4 284.5,376.2 284.5,376.1 285.0,378.1 284.5,379.0 286.0,379.9 286.0,379.4 285.8,381.8 284.9,381.7 285.5,383.1 285.9,383.9 286.7,384.0 285.5,385.1 285.8,385.9 287.5,388.3 286.1,388.6 286.7,389.2 287.0,390.7 287.6,391.1 287.1,392.0 287.1,393.3 288.4,394.0 287.4,394.5 288.2,396.2 289.1,396.8 289.3,398.1 288.8,398.6 289.1,400.1 289.2,401.0 289.5,401.2 289.8,402.9 289.1,403.4 290.0,405.1 291.1,405.1 291.2,406.8 290.2,407.2 290.2,408.7 291.3,409.8 291.7,410.3 291.8,411.1 290.9,412.1 291.1,412.1 292.9,412.8 292.0,413.7 293.8,414.7 292.8,416.6 293.9,417.0 295.5,417.3 296.6,417.4 297.3,417.3 298.2,418.1 299.2,418.2 300.1,419.2 300.6,418.8 301.9,419.1 302.6,418.7 303.5,419.0 304.7,418.9 305.4,418.9 306.3,418.9 307.0,419.0 308.5,418.9 309.2,418.8 310.1,419.1 311.0,419.1 311.8,419.2 312.9,419.0 313.4,419.3 314.8,419.2 315.4,419.4 316.2,419.2 317.1,419.4 318.1,419.3 319.2,419.7 319.9,419.6 320.9,419.7 321.9,419.5 322.6,419.4 323.6,419.6 324.4,419.6 325.4,419.8 326.2,419.9 327.3,419.8 328.2,419.9 329.2,419.8 330.0,419.9 331.0,419.8 331.9,420.0 332.7,419.8 333.6,420.0 334.6,420.1 335.5,419.9 336.3,420.0 337.2,420.1 338.3,420.2 339.0,420.2 340.0,420.1 341.0,420.1 341.7,420.3 342.7,420.2 343.7,420.3 344.5,420.3 345.4,420.3 346.3,420.4 347.3,420.4 348.2,420.4 349.1,420.5 350.0,420.5 351.0,420.5 351.9,420.5 352.8,420.6 353.6,420.6 354.6,420.6 355.4,420.7 356.4,420.7 357.3,420.7 358.2,420.7 359.1,420.8 360.0,420.8" fill="none" stroke="#000" stroke-width="2.1" stroke-linejoin="round"/>
<line x1="244.5" y1="331.1" x2="360.4" y2="331.1" stroke="#1a1a1a" stroke-width="1.3"/>
<line x1="360.4" y1="331.1" x2="360.4" y2="420.9" stroke="#3a3a3a" stroke-width="1.2"/>
<line x1="244.5" y1="330.5" x2="244.5" y2="421.79999999999995" stroke="#000" stroke-width="1.6"/>
<line x1="243.7" y1="420.9" x2="360.9" y2="420.9" stroke="#000" stroke-width="1.55"/>
<path d="M241.30,420.90H244.5M242.70,417.31H244.5M242.70,413.72H244.5M242.70,410.12H244.5M242.70,406.53H244.5M241.30,402.94H244.5M242.70,399.35H244.5M242.70,395.76H244.5M242.70,392.16H244.5M242.70,388.57H244.5M241.30,384.98H244.5M242.70,381.39H244.5M242.70,377.80H244.5M242.70,374.20H244.5M242.70,370.61H244.5M241.30,367.02H244.5M242.70,363.43H244.5M242.70,359.84H244.5M242.70,356.24H244.5M242.70,352.65H244.5M241.30,349.06H244.5M242.70,345.47H244.5M242.70,341.88H244.5M242.70,338.28H244.5M242.70,334.69H244.5M241.30,331.10H244.5M244.50,420.9V424.40M253.22,420.9V422.90M258.32,420.9V422.90M261.94,420.9V422.90M264.75,420.9V422.90M267.05,420.9V422.90M268.99,420.9V422.90M270.67,420.9V422.90M272.15,420.9V422.90M273.48,420.9V424.40M282.20,420.9V422.90M287.30,420.9V422.90M290.92,420.9V422.90M293.73,420.9V422.90M296.02,420.9V422.90M297.96,420.9V422.90M299.64,420.9V422.90M301.12,420.9V422.90M302.45,420.9V424.40M311.17,420.9V422.90M316.27,420.9V422.90M319.89,420.9V422.90M322.70,420.9V422.90M325.00,420.9V422.90M326.94,420.9V422.90M328.62,420.9V422.90M330.10,420.9V422.90M331.42,420.9V424.40M340.15,420.9V422.90M345.25,420.9V422.90M348.87,420.9V422.90M351.68,420.9V422.90M353.97,420.9V422.90M355.91,420.9V422.90M357.59,420.9V422.90M359.07,420.9V422.90M360.40,420.9V424.40" stroke="#000" stroke-width="0.9" fill="none"/>
<text transform="translate(238.90,419.30) rotate(-90)" text-anchor="middle" font-size="6.8" fill="#000" stroke="#000" stroke-width="0.2">0</text>
<text transform="translate(238.90,401.62) rotate(-90)" text-anchor="middle" font-size="6.8" fill="#000" stroke="#000" stroke-width="0.2">10</text>
<text transform="translate(238.90,383.94) rotate(-90)" text-anchor="middle" font-size="6.8" fill="#000" stroke="#000" stroke-width="0.2">20</text>
<text transform="translate(238.90,366.26) rotate(-90)" text-anchor="middle" font-size="6.8" fill="#000" stroke="#000" stroke-width="0.2">30</text>
<text transform="translate(238.90,348.58) rotate(-90)" text-anchor="middle" font-size="6.8" fill="#000" stroke="#000" stroke-width="0.2">40</text>
<text transform="translate(238.90,330.90) rotate(-90)" text-anchor="middle" font-size="6.8" fill="#000" stroke="#000" stroke-width="0.2">50</text>
<text transform="translate(230.90,377.50) rotate(-90)" text-anchor="middle" font-size="6.9" fill="#000" stroke="#000" stroke-width="0.15">Counts</text>
<text x="240.30" y="432.40" font-size="6.4" fill="#000" stroke="#000" stroke-width="0.2">10</text>
<text x="247.50" y="428.80" font-size="6.3" fill="#000" stroke="#000" stroke-width="0.15">0</text>
<text x="268.99" y="432.40" font-size="6.4" fill="#000" stroke="#000" stroke-width="0.2">10</text>
<text x="276.19" y="428.80" font-size="6.3" fill="#000" stroke="#000" stroke-width="0.15">1</text>
<text x="297.67" y="432.40" font-size="6.4" fill="#000" stroke="#000" stroke-width="0.2">10</text>
<text x="304.87" y="428.80" font-size="6.3" fill="#000" stroke="#000" stroke-width="0.15">2</text>
<text x="326.36" y="432.40" font-size="6.4" fill="#000" stroke="#000" stroke-width="0.2">10</text>
<text x="333.56" y="428.80" font-size="6.3" fill="#000" stroke="#000" stroke-width="0.15">3</text>
<text x="355.04" y="432.40" font-size="6.4" fill="#000" stroke="#000" stroke-width="0.2">10</text>
<text x="362.24" y="428.80" font-size="6.3" fill="#000" stroke="#000" stroke-width="0.15">4</text>
<text x="302.45" y="439.10" text-anchor="middle" font-size="6.5" fill="#000" stroke="#000" stroke-width="0.2">FL3-H</text>
<polygon points="410.0,420.9 410.0,420.5 411.0,420.3 412.0,420.1 412.9,419.8 414.1,419.3 415.1,418.5 415.8,418.0 416.8,417.7 417.1,416.6 418.0,416.6 419.3,415.0 420.1,414.2 420.6,413.5 420.4,413.8 421.3,412.1 423.0,412.3 422.7,411.6 423.4,410.2 423.2,409.6 424.2,408.7 424.8,406.7 424.4,405.5 424.4,404.4 425.3,404.5 425.5,403.9 426.6,402.7 427.5,403.9 427.1,404.8 428.0,405.1 428.7,406.0 428.6,408.1 427.9,408.9 429.3,408.0 429.7,406.7 430.9,407.3 431.8,407.7 433.7,408.5 433.8,408.3 434.9,408.3 435.3,407.6 437.1,407.2 436.4,406.4 436.8,404.7 437.9,404.5 437.8,403.6 438.5,401.9 438.5,400.8 438.5,399.8 439.7,400.1 439.4,397.9 441.0,397.6 440.7,396.3 441.4,396.3 441.8,395.0 441.8,394.9 442.3,393.6 443.9,392.4 444.3,392.8 444.7,391.9 444.5,390.6 445.1,390.5 445.9,389.2 447.4,389.0 448.0,389.4 447.9,390.7 448.5,391.0 448.6,389.9 448.8,390.2 449.9,388.8 449.5,387.4 449.2,386.4 450.4,386.4 450.0,385.3 450.8,384.3 450.9,383.5 450.8,382.5 450.9,381.3 452.1,380.6 451.9,380.1 452.8,378.6 452.4,377.7 453.0,376.9 453.6,376.2 454.1,375.3 454.0,374.2 454.8,373.6 454.5,372.7 455.5,371.6 455.9,371.0 455.6,369.5 455.3,369.1 456.9,369.5 457.0,370.7 457.5,370.8 458.0,372.3 458.0,373.0 458.1,374.4 458.3,375.2 457.7,375.4 458.4,377.0 458.3,377.9 459.0,377.9 459.0,379.1 458.6,379.9 459.1,380.9 459.2,381.6 459.7,383.0 460.1,384.2 459.8,385.5 459.6,385.7 460.2,386.6 460.1,388.1 460.7,387.9 461.2,388.9 461.3,390.2 461.5,391.9 462.0,392.1 462.2,393.3 461.7,393.5 462.2,395.0 462.9,396.5 462.6,396.5 463.2,396.9 462.3,398.6 463.2,398.9 463.4,400.9 463.2,401.1 463.2,401.8 464.4,402.9 464.6,404.5 464.3,404.5 465.0,405.8 464.4,406.4 465.4,407.6 464.6,408.5 464.8,409.6 465.6,410.0 466.5,411.7 465.8,412.2 466.5,413.7 467.6,413.6 467.3,414.4 468.7,415.4 468.8,416.3 469.3,417.2 469.9,417.5 470.4,418.4 471.3,419.0 472.2,419.6 473.3,420.1 475.0,420.5 475.0,420.9" fill="#b9b9b9" stroke="#000" stroke-width="1.15" stroke-linejoin="round"/>
<polyline points="413.7,411.4 414.7,410.5 414.9,410.1 414.6,409.4 415.0,408.5 415.5,407.1 416.5,407.4 416.4,405.6 417.6,405.9 418.0,404.1 419.0,402.7 419.3,402.2 418.6,401.1 419.3,401.4 419.5,400.1 420.6,398.9 420.8,397.6 420.4,397.0 421.7,396.5 421.5,395.9 422.1,394.5 423.0,394.3 422.4,393.3 423.1,392.9 423.7,391.1 424.4,390.0 423.8,390.1 423.7,388.8 423.8,388.3 425.2,387.1 425.6,385.7 425.6,385.2 425.6,383.9 426.3,383.7 426.0,382.3 425.5,381.3 426.6,380.8 427.0,378.7 426.5,378.3 426.1,376.9 426.5,375.4 426.6,375.4 427.0,373.6 427.7,373.6 427.5,371.9 428.6,371.6 429.8,372.1 429.6,371.9 430.5,371.6 432.2,369.4 431.2,370.6 431.5,372.0 432.2,372.6 431.5,373.9 432.3,375.1 433.4,376.3 432.8,377.2 433.2,377.3 433.7,379.4 433.8,380.5 433.2,380.8 432.9,382.2 432.9,382.3 433.3,383.5 433.6,384.3 433.2,385.4 433.5,386.8 433.5,388.6 434.6,388.4 434.1,389.8 434.4,390.3 435.4,392.6 434.9,392.6 434.5,392.9 435.1,394.1 436.0,394.8 434.9,396.9 435.9,396.5 436.1,397.2 436.3,399.8 437.0,400.3 436.3,400.8 436.3,402.4 437.1,403.4 437.0,403.6 438.0,405.8 438.3,406.4 438.5,407.1 437.8,407.7 438.3,407.7 438.0,409.0 438.6,410.6 440.0,411.0 440.2,412.8 440.7,412.8 440.1,413.6 440.5,414.5 441.5,416.0" fill="none" stroke="#000" stroke-width="1.4" stroke-linejoin="round"/>
<polygon points="426.0,377.0 426.5,368.0 427.1,365.0 428.5,368.0 429.8,368.0 431.4,362.7 432.5,366.0 433.0,372.0 433.5,378.0 431.0,380.0 429.0,381.0 427.5,379.0" fill="#000" stroke="none"/>
<polyline points="393.4,419.5 394.3,419.5 395.4,419.2 396.0,419.5 397.0,419.0 398.3,419.1 399.1,418.9 399.9,418.6 400.8,419.0 401.6,418.8 402.6,418.2 403.6,418.5 404.2,417.9 405.5,418.1 406.3,418.4 407.3,418.3 407.9,418.1 408.8,418.1 409.9,416.3 409.3,415.4 411.2,414.8 411.0,413.6 411.3,412.8 412.2,412.9 413.8,413.2 414.3,412.4 415.0,411.7 415.0,409.4 415.7,410.0 416.1,408.5 416.1,407.0 416.7,406.8 416.1,405.0 417.4,405.9 416.5,404.7 417.4,402.7 417.6,403.0 419.1,400.9 419.0,400.1 419.6,399.8 420.3,400.1 420.0,399.3 420.1,396.8 420.9,395.8 420.5,395.6 421.5,394.2 420.8,394.5 421.6,393.8 422.9,391.8 422.4,391.2 423.1,390.4 423.2,389.6 424.2,388.5 423.6,388.0 423.5,386.3 425.0,385.8 424.4,383.9 424.3,384.0 423.8,383.1 425.1,381.2 425.2,380.9 425.5,379.7 425.6,379.4 424.5,377.2 425.9,377.8 425.2,375.9 426.0,374.7 425.6,373.8 425.7,373.4 425.7,372.1 426.6,370.5 426.3,370.9 425.9,369.1 426.8,368.2 425.8,367.7 426.8,366.2 426.2,365.7 427.3,366.9 427.6,367.4 426.9,369.3 428.1,369.9 427.2,370.3 428.0,371.4 429.3,371.6 428.9,369.6 430.3,369.3 430.5,367.7 429.5,366.6 430.9,365.6 430.4,364.9 430.7,363.8 431.9,362.4 430.4,364.8 432.2,365.9 431.7,366.8 432.8,366.5 432.7,368.6 432.8,369.0 432.3,369.7 432.4,370.2 433.2,371.5 433.7,372.1 434.1,374.2 434.3,375.5 434.4,375.9 433.0,377.2 433.4,377.3 434.4,378.7 434.1,380.3 434.7,380.1 434.2,382.0 434.7,382.7 434.6,382.6 435.1,384.6 434.6,385.5 436.1,386.4 436.1,385.9 435.9,388.3 435.0,388.2 435.6,389.5 436.0,390.4 436.8,390.4 435.7,391.5 436.0,392.3 437.7,394.6 436.3,394.9 436.9,395.5 437.2,397.0 437.8,397.3 437.2,398.2 437.3,399.5 438.5,400.1 437.6,400.7 438.3,402.3 439.2,402.8 439.4,404.2 438.9,404.7 439.2,406.2 439.3,407.0 439.6,407.2 439.9,408.9 439.3,409.3 440.2,411.0 441.4,411.0 441.5,412.7 440.6,413.0 440.6,414.6 442.1,415.4 442.9,415.7 443.3,416.3 443.0,417.0 443.5,417.2 445.2,417.3 445.5,417.5 447.1,417.8 447.3,418.5 448.3,418.6 449.6,418.7 450.8,418.6 451.6,418.4 452.5,418.8 453.4,418.6 454.4,419.2 455.0,418.9 456.2,419.3 457.0,419.1 458.0,419.4 459.2,419.4 459.9,419.5 460.8,419.5 461.6,419.5 462.9,419.5 463.7,419.4 464.6,419.7 465.5,419.6 466.3,419.7 467.4,419.5 467.9,419.7 469.2,419.7 469.9,419.8 470.7,419.6 471.6,419.7 472.5,419.6 473.6,419.9 474.3,419.8 475.3,419.9 476.2,419.7 477.0,419.6 478.0,419.8 478.8,419.8 479.7,419.9 480.6,420.0 481.6,419.9 482.5,420.0 483.5,419.9 484.3,420.0 485.3,419.9 486.2,420.1 487.0,419.9 487.8,420.1 488.8,420.1 489.8,420.0 490.5,420.0 491.4,420.1 492.5,420.2 493.2,420.2 494.2,420.1 495.2,420.0 495.9,420.2 496.9,420.1 497.8,420.2 498.6,420.2 499.6,420.2 500.4,420.2 501.5,420.2 502.3,420.2 503.2,420.3 504.0,420.4 505.0,420.3" fill="none" stroke="#000" stroke-width="1.8" stroke-linejoin="round"/>
<line x1="393.4" y1="331.1" x2="505.9" y2="331.1" stroke="#1a1a1a" stroke-width="1.3"/>
<line x1="505.9" y1="331.1" x2="505.9" y2="420.9" stroke="#3a3a3a" stroke-width="1.2"/>
<line x1="393.4" y1="330.5" x2="393.4" y2="421.79999999999995" stroke="#000" stroke-width="1.6"/>
<line x1="392.59999999999997" y1="420.9" x2="506.4" y2="420.9" stroke="#000" stroke-width="1.55"/>
<path d="M390.20,420.90H393.4M391.60,417.31H393.4M391.60,413.72H393.4M391.60,410.12H393.4M391.60,406.53H393.4M390.20,402.94H393.4M391.60,399.35H393.4M391.60,395.76H393.4M391.60,392.16H393.4M391.60,388.57H393.4M390.20,384.98H393.4M391.60,381.39H393.4M391.60,377.80H393.4M391.60,374.20H393.4M391.60,370.61H393.4M390.20,367.02H393.4M391.60,363.43H393.4M391.60,359.84H393.4M391.60,356.24H393.4M391.60,352.65H393.4M390.20,349.06H393.4M391.60,345.47H393.4M391.60,341.88H393.4M391.60,338.28H393.4M391.60,334.69H393.4M390.20,331.10H393.4M393.40,420.9V424.40M401.87,420.9V422.90M406.82,420.9V422.90M410.33,420.9V422.90M413.06,420.9V422.90M415.29,420.9V422.90M417.17,420.9V422.90M418.80,420.9V422.90M420.24,420.9V422.90M421.52,420.9V424.40M429.99,420.9V422.90M434.94,420.9V422.90M438.46,420.9V422.90M441.18,420.9V422.90M443.41,420.9V422.90M445.29,420.9V422.90M446.92,420.9V422.90M448.36,420.9V422.90M449.65,420.9V424.40M458.12,420.9V422.90M463.07,420.9V422.90M466.58,420.9V422.90M469.31,420.9V422.90M471.54,420.9V422.90M473.42,420.9V422.90M475.05,420.9V422.90M476.49,420.9V422.90M477.77,420.9V424.40M486.24,420.9V422.90M491.19,420.9V422.90M494.71,420.9V422.90M497.43,420.9V422.90M499.66,420.9V422.90M501.54,420.9V422.90M503.17,420.9V422.90M504.61,420.9V422.90M505.90,420.9V424.40" stroke="#000" stroke-width="0.9" fill="none"/>
<text transform="translate(387.80,419.30) rotate(-90)" text-anchor="middle" font-size="6.8" fill="#000" stroke="#000" stroke-width="0.2">0</text>
<text transform="translate(387.80,401.62) rotate(-90)" text-anchor="middle" font-size="6.8" fill="#000" stroke="#000" stroke-width="0.2">10</text>
<text transform="translate(387.80,383.94) rotate(-90)" text-anchor="middle" font-size="6.8" fill="#000" stroke="#000" stroke-width="0.2">20</text>
<text transform="translate(387.80,366.26) rotate(-90)" text-anchor="middle" font-size="6.8" fill="#000" stroke="#000" stroke-width="0.2">30</text>
<text transform="translate(387.80,348.58) rotate(-90)" text-anchor="middle" font-size="6.8" fill="#000" stroke="#000" stroke-width="0.2">40</text>
<text transform="translate(387.80,330.90) rotate(-90)" text-anchor="middle" font-size="6.8" fill="#000" stroke="#000" stroke-width="0.2">50</text>
<text transform="translate(379.80,377.50) rotate(-90)" text-anchor="middle" font-size="6.9" fill="#000" stroke="#000" stroke-width="0.15">Counts</text>
<text x="389.20" y="432.40" font-size="6.4" fill="#000" stroke="#000" stroke-width="0.2">10</text>
<text x="396.40" y="428.80" font-size="6.3" fill="#000" stroke="#000" stroke-width="0.15">0</text>
<text x="417.04" y="432.40" font-size="6.4" fill="#000" stroke="#000" stroke-width="0.2">10</text>
<text x="424.24" y="428.80" font-size="6.3" fill="#000" stroke="#000" stroke-width="0.15">1</text>
<text x="444.89" y="432.40" font-size="6.4" fill="#000" stroke="#000" stroke-width="0.2">10</text>
<text x="452.09" y="428.80" font-size="6.3" fill="#000" stroke="#000" stroke-width="0.15">2</text>
<text x="472.73" y="432.40" font-size="6.4" fill="#000" stroke="#000" stroke-width="0.2">10</text>
<text x="479.93" y="428.80" font-size="6.3" fill="#000" stroke="#000" stroke-width="0.15">3</text>
<text x="500.57" y="432.40" font-size="6.4" fill="#000" stroke="#000" stroke-width="0.2">10</text>
<text x="507.77" y="428.80" font-size="6.3" fill="#000" stroke="#000" stroke-width="0.15">4</text>
<text x="449.65" y="439.10" text-anchor="middle" font-size="6.5" fill="#000" stroke="#000" stroke-width="0.2">FL3-H</text>
<text transform="translate(34.5,17.0) scale(0.9246,1)" font-size="23.0" font-weight="normal" stroke="#000" stroke-width="0.45">A</text>
<text transform="translate(51.95,17.0) scale(1.0,1)" font-size="23.0" font-weight="normal" stroke="#000" stroke-width="0.45">)</text>
<text transform="translate(33.82,176.5) scale(1.0917,1)" font-size="23.0" font-weight="normal" stroke="#000" stroke-width="0.45">B</text>
<text transform="translate(51.35,176.5) scale(1.0,1)" font-size="23.0" font-weight="normal" stroke="#000" stroke-width="0.45">)</text>
<text transform="translate(8.4,95.0) scale(0.9414,1)" font-size="21.5" font-weight="normal" stroke="#000" stroke-width="0.45">MCP-1</text>
<text transform="translate(2.97,259.4) scale(1.0259,1)" font-size="21.0" font-weight="normal" stroke="#000" stroke-width="0.45">- TNF&#945;</text>
<text transform="translate(0.0,382.8) scale(1.0,1)" font-size="20.5" font-weight="normal" stroke="#000" stroke-width="0.45">+</text>
<text transform="translate(16.72,381.7) scale(0.9639,1)" font-size="20.75" font-weight="normal" stroke="#000" stroke-width="0.45">TNF&#945;</text>
<text transform="translate(102.46,20.6) scale(0.9585,1)" font-size="13.5" font-weight="normal" stroke="#000" stroke-width="0.6">VECTOR / GFP</text>
<text transform="translate(131.97,36.7) scale(1.0507,1)" font-size="13.5" font-weight="normal" stroke="#000" stroke-width="0.6">-TNF&#945;</text>
<text transform="translate(257.06,20.4) scale(0.9702,1)" font-size="13.5" font-weight="normal" stroke="#000" stroke-width="0.6">VECTOR / GFP</text>
<text transform="translate(281.22,36.7) scale(1.0429,1)" font-size="13.5" font-weight="normal" stroke="#000" stroke-width="0.6">+TNF&#945;</text>
<text transform="translate(399.53,19.8) scale(0.9707,1)" font-size="13.5" font-weight="normal" stroke="#000" stroke-width="0.6">MKK6(Ala) / GFP</text>
<text transform="translate(428.63,36.5) scale(1.0331,1)" font-size="13.5" font-weight="normal" stroke="#000" stroke-width="0.6">+TNF&#945;</text>
<text transform="translate(107.26,188.3) scale(0.9734,1)" font-size="13.5" font-weight="normal" stroke="#000" stroke-width="0.3">VECTOR / GFP</text>
<text transform="translate(254.92,187.5) scale(0.9751,1)" font-size="13.5" font-weight="normal" stroke="#000" stroke-width="0.3">MKK6(wt) / GFP</text>
<text transform="translate(394.52,188.2) scale(0.9798,1)" font-size="13.5" font-weight="normal" stroke="#000" stroke-width="0.3">MKK6(Glu) / GFP</text>
<text x="174.6" y="63.8" font-size="12.75" font-weight="normal" textLength="25.1" lengthAdjust="spacing" stroke="#000" stroke-width="0.35">14.7</text>
<text x="328.45" y="62.8" font-size="12.75" font-weight="normal" textLength="26.76" lengthAdjust="spacing" stroke="#000" stroke-width="0.35">64.4</text>
<text x="480.25" y="62.9" font-size="12.75" font-weight="normal" textLength="25.89" lengthAdjust="spacing" stroke="#000" stroke-width="0.35">21.1</text>
<text x="179.2" y="223.6" font-size="12.75" font-weight="normal" textLength="26.49" lengthAdjust="spacing" stroke="#000" stroke-width="0.35">31.3</text>
<text x="328.15" y="223.9" font-size="12.75" font-weight="normal" textLength="26.89" lengthAdjust="spacing" stroke="#000" stroke-width="0.35">23.7</text>
<text x="472.45" y="224.3" font-size="12.75" font-weight="normal" textLength="26.89" lengthAdjust="spacing" stroke="#000" stroke-width="0.35">27.4</text>
<text x="176.25" y="346.8" font-size="12.75" font-weight="normal" textLength="26.82" lengthAdjust="spacing" stroke="#000" stroke-width="0.35">62.6</text>
<text x="327.8" y="347.0" font-size="12.75" font-weight="normal" textLength="26.49" lengthAdjust="spacing" stroke="#000" stroke-width="0.35">97.8</text>
<text x="465.1" y="347.0" font-size="12.75" font-weight="normal" textLength="33.66" lengthAdjust="spacing" stroke="#000" stroke-width="0.35">108.4</text>
<text x="175.55" y="84.0" font-size="10.0" font-weight="bold" textLength="29.2" lengthAdjust="spacing" stroke="#000" stroke-width="0.25">5.4 %</text>
<text x="322.1" y="82.3" font-size="10.0" font-weight="bold" textLength="36.0" lengthAdjust="spacing" stroke="#000" stroke-width="0.25">77.2 %</text>
<text x="472.65" y="82.5" font-size="10.0" font-weight="bold" textLength="36.36" lengthAdjust="spacing" stroke="#000" stroke-width="0.25">42.2 %</text>
<text x="169.95" y="246.1" font-size="10.0" font-weight="bold" textLength="36.36" lengthAdjust="spacing" stroke="#000" stroke-width="0.25">45.5 %</text>
<text x="319.95" y="244.3" font-size="10.0" font-weight="bold" textLength="36.36" lengthAdjust="spacing" stroke="#000" stroke-width="0.25">28.3 %</text>
<text x="466.05" y="246.1" font-size="10.0" font-weight="bold" textLength="36.66" lengthAdjust="spacing" stroke="#000" stroke-width="0.25">40.1 %</text>
<text x="171.3" y="370.0" font-size="10.0" font-weight="bold" textLength="35.46" lengthAdjust="spacing" stroke="#000" stroke-width="0.25">71.6 %</text>
<text x="321.3" y="370.0" font-size="10.0" font-weight="bold" textLength="36.06" lengthAdjust="spacing" stroke="#000" stroke-width="0.25">75.8 %</text>
<text x="465.45" y="371.0" font-size="10.0" font-weight="bold" textLength="36.6" lengthAdjust="spacing" stroke="#000" stroke-width="0.25">80.5 %</text>
</svg>
</body></html>
